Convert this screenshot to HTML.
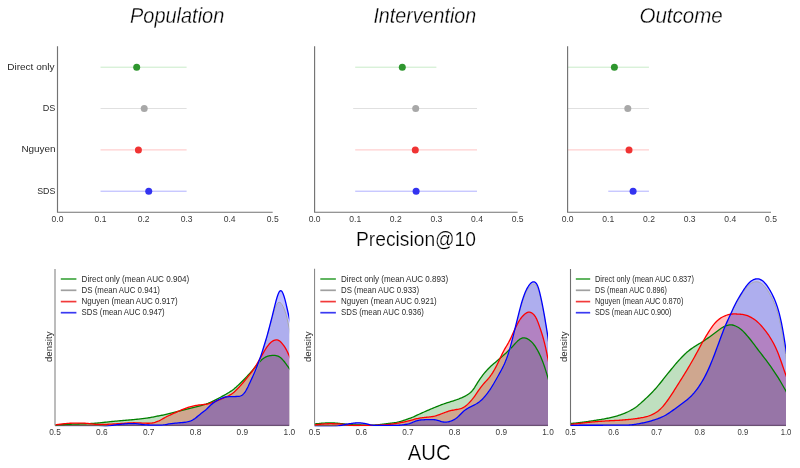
<!DOCTYPE html>
<html><head><meta charset="utf-8"><style>
html,body{margin:0;padding:0;background:#fff;width:800px;height:468px;overflow:hidden;font-family:"Liberation Sans",sans-serif;}
svg{display:block;will-change:transform;}
</style></head><body>
<svg width="800" height="468" viewBox="0 0 800 468">
<rect width="800" height="468" fill="#fff"/>
<text x="130" y="23" font-size="21.5" font-style="italic" fill="#000" stroke="#fff" stroke-width="0.3" font-family="Liberation Sans, sans-serif" textLength="94.3" lengthAdjust="spacingAndGlyphs">Population</text>
<text x="373.4" y="23" font-size="21.5" font-style="italic" fill="#000" stroke="#fff" stroke-width="0.3" font-family="Liberation Sans, sans-serif" textLength="102.8" lengthAdjust="spacingAndGlyphs">Intervention</text>
<text x="639.5" y="23" font-size="21.5" font-style="italic" fill="#000" stroke="#fff" stroke-width="0.3" font-family="Liberation Sans, sans-serif" textLength="83.2" lengthAdjust="spacingAndGlyphs">Outcome</text>
<line x1="100.54" y1="67.20" x2="186.62" y2="67.20" stroke="#c8ebc8" stroke-width="1.00"/>
<circle cx="136.69" cy="67.20" r="3.5" fill="#2e962e"/>
<line x1="100.54" y1="108.50" x2="186.62" y2="108.50" stroke="#e0e0e0" stroke-width="1.00"/>
<circle cx="144.23" cy="108.50" r="3.5" fill="#a8a8a8"/>
<line x1="100.54" y1="149.90" x2="186.62" y2="149.90" stroke="#ffcfcf" stroke-width="1.40"/>
<circle cx="138.42" cy="149.90" r="3.5" fill="#f03333"/>
<line x1="100.54" y1="191.20" x2="186.62" y2="191.20" stroke="#b0b0ff" stroke-width="1.00"/>
<circle cx="148.74" cy="191.20" r="3.5" fill="#3333f0"/>
<path d="M57.50,46.2 V212.2 H272.70" fill="none" stroke="#737373" stroke-width="1.15"/>
<text x="57.50" y="221.6" font-size="8.6" fill="#3a3a3a" text-anchor="middle" font-family="Liberation Sans, sans-serif" textLength="11.9" lengthAdjust="spacingAndGlyphs">0.0</text>
<text x="100.54" y="221.6" font-size="8.6" fill="#3a3a3a" text-anchor="middle" font-family="Liberation Sans, sans-serif" textLength="11.9" lengthAdjust="spacingAndGlyphs">0.1</text>
<text x="143.58" y="221.6" font-size="8.6" fill="#3a3a3a" text-anchor="middle" font-family="Liberation Sans, sans-serif" textLength="11.9" lengthAdjust="spacingAndGlyphs">0.2</text>
<text x="186.62" y="221.6" font-size="8.6" fill="#3a3a3a" text-anchor="middle" font-family="Liberation Sans, sans-serif" textLength="11.9" lengthAdjust="spacingAndGlyphs">0.3</text>
<text x="229.66" y="221.6" font-size="8.6" fill="#3a3a3a" text-anchor="middle" font-family="Liberation Sans, sans-serif" textLength="11.9" lengthAdjust="spacingAndGlyphs">0.4</text>
<text x="272.70" y="221.6" font-size="8.6" fill="#3a3a3a" text-anchor="middle" font-family="Liberation Sans, sans-serif" textLength="11.9" lengthAdjust="spacingAndGlyphs">0.5</text>
<line x1="355.20" y1="67.20" x2="436.40" y2="67.20" stroke="#c8ebc8" stroke-width="1.00"/>
<circle cx="402.30" cy="67.20" r="3.5" fill="#2e962e"/>
<line x1="353.17" y1="108.50" x2="477.00" y2="108.50" stroke="#e0e0e0" stroke-width="1.00"/>
<circle cx="415.69" cy="108.50" r="3.5" fill="#a8a8a8"/>
<line x1="355.20" y1="149.90" x2="477.00" y2="149.90" stroke="#ffcfcf" stroke-width="1.40"/>
<circle cx="415.29" cy="149.90" r="3.5" fill="#f03333"/>
<line x1="355.20" y1="191.20" x2="477.00" y2="191.20" stroke="#b0b0ff" stroke-width="1.00"/>
<circle cx="416.10" cy="191.20" r="3.5" fill="#3333f0"/>
<path d="M314.60,46.2 V212.2 H517.60" fill="none" stroke="#737373" stroke-width="1.15"/>
<text x="314.60" y="221.6" font-size="8.6" fill="#3a3a3a" text-anchor="middle" font-family="Liberation Sans, sans-serif" textLength="11.9" lengthAdjust="spacingAndGlyphs">0.0</text>
<text x="355.20" y="221.6" font-size="8.6" fill="#3a3a3a" text-anchor="middle" font-family="Liberation Sans, sans-serif" textLength="11.9" lengthAdjust="spacingAndGlyphs">0.1</text>
<text x="395.80" y="221.6" font-size="8.6" fill="#3a3a3a" text-anchor="middle" font-family="Liberation Sans, sans-serif" textLength="11.9" lengthAdjust="spacingAndGlyphs">0.2</text>
<text x="436.40" y="221.6" font-size="8.6" fill="#3a3a3a" text-anchor="middle" font-family="Liberation Sans, sans-serif" textLength="11.9" lengthAdjust="spacingAndGlyphs">0.3</text>
<text x="477.00" y="221.6" font-size="8.6" fill="#3a3a3a" text-anchor="middle" font-family="Liberation Sans, sans-serif" textLength="11.9" lengthAdjust="spacingAndGlyphs">0.4</text>
<text x="517.60" y="221.6" font-size="8.6" fill="#3a3a3a" text-anchor="middle" font-family="Liberation Sans, sans-serif" textLength="11.9" lengthAdjust="spacingAndGlyphs">0.5</text>
<line x1="567.60" y1="67.20" x2="648.96" y2="67.20" stroke="#c8ebc8" stroke-width="1.00"/>
<circle cx="614.38" cy="67.20" r="3.5" fill="#2e962e"/>
<line x1="567.60" y1="108.50" x2="648.96" y2="108.50" stroke="#e0e0e0" stroke-width="1.00"/>
<circle cx="627.81" cy="108.50" r="3.5" fill="#a8a8a8"/>
<line x1="567.60" y1="149.90" x2="648.96" y2="149.90" stroke="#ffcfcf" stroke-width="1.40"/>
<circle cx="629.03" cy="149.90" r="3.5" fill="#f03333"/>
<line x1="608.28" y1="191.20" x2="648.96" y2="191.20" stroke="#b0b0ff" stroke-width="1.00"/>
<circle cx="633.09" cy="191.20" r="3.5" fill="#3333f0"/>
<path d="M567.60,46.2 V212.2 H771.00" fill="none" stroke="#737373" stroke-width="1.15"/>
<text x="567.60" y="221.6" font-size="8.6" fill="#3a3a3a" text-anchor="middle" font-family="Liberation Sans, sans-serif" textLength="11.9" lengthAdjust="spacingAndGlyphs">0.0</text>
<text x="608.28" y="221.6" font-size="8.6" fill="#3a3a3a" text-anchor="middle" font-family="Liberation Sans, sans-serif" textLength="11.9" lengthAdjust="spacingAndGlyphs">0.1</text>
<text x="648.96" y="221.6" font-size="8.6" fill="#3a3a3a" text-anchor="middle" font-family="Liberation Sans, sans-serif" textLength="11.9" lengthAdjust="spacingAndGlyphs">0.2</text>
<text x="689.64" y="221.6" font-size="8.6" fill="#3a3a3a" text-anchor="middle" font-family="Liberation Sans, sans-serif" textLength="11.9" lengthAdjust="spacingAndGlyphs">0.3</text>
<text x="730.32" y="221.6" font-size="8.6" fill="#3a3a3a" text-anchor="middle" font-family="Liberation Sans, sans-serif" textLength="11.9" lengthAdjust="spacingAndGlyphs">0.4</text>
<text x="771.00" y="221.6" font-size="8.6" fill="#3a3a3a" text-anchor="middle" font-family="Liberation Sans, sans-serif" textLength="11.9" lengthAdjust="spacingAndGlyphs">0.5</text>
<text x="54.60" y="69.75" font-size="9" fill="#2a2a2a" text-anchor="end" font-family="Liberation Sans, sans-serif" textLength="47.4" lengthAdjust="spacingAndGlyphs">Direct only</text>
<text x="55.40" y="111.05" font-size="9" fill="#2a2a2a" text-anchor="end" font-family="Liberation Sans, sans-serif" textLength="12.6" lengthAdjust="spacingAndGlyphs">DS</text>
<text x="55.60" y="152.45" font-size="9" fill="#2a2a2a" text-anchor="end" font-family="Liberation Sans, sans-serif" textLength="34.2" lengthAdjust="spacingAndGlyphs">Nguyen</text>
<text x="55.40" y="193.75" font-size="9" fill="#2a2a2a" text-anchor="end" font-family="Liberation Sans, sans-serif" textLength="18.2" lengthAdjust="spacingAndGlyphs">SDS</text>
<text x="356" y="245.5" font-size="19.5" fill="#000" stroke="#fff" stroke-width="0.22" font-family="Liberation Sans, sans-serif" textLength="120" lengthAdjust="spacingAndGlyphs">Precision@10</text>
<text x="407.8" y="460" font-size="22" fill="#000" stroke="#fff" stroke-width="0.22" font-family="Liberation Sans, sans-serif" textLength="42.8" lengthAdjust="spacingAndGlyphs">AUC</text>
<clipPath id="clipD"><rect x="55.00" y="260.00" width="234.30" height="166.20"/></clipPath>
<g clip-path="url(#clipD)">
<line x1="55.00" y1="425.50" x2="289.30" y2="425.50" stroke="#6e6e6e" stroke-width="1.3"/>
<path d="M49.00,424.99 L50.00,424.97 51.00,424.94 52.00,424.90 53.00,424.87 54.00,424.84 55.00,424.80 56.00,424.76 57.00,424.73 58.00,424.69 59.00,424.66 60.00,424.62 61.00,424.59 62.00,424.55 63.00,424.52 64.00,424.48 65.00,424.45 66.00,424.41 67.00,424.38 68.00,424.34 69.00,424.31 70.00,424.27 71.00,424.24 72.00,424.20 73.00,424.17 74.00,424.13 75.00,424.10 76.00,424.07 77.00,424.04 78.00,424.01 79.00,423.98 80.00,423.94 81.00,423.91 82.00,423.88 83.00,423.85 84.00,423.81 85.00,423.78 86.00,423.74 87.00,423.70 88.00,423.66 89.00,423.62 90.00,423.57 91.00,423.52 92.00,423.46 93.00,423.40 94.00,423.33 95.00,423.26 96.00,423.18 97.00,423.09 98.00,423.00 99.00,422.91 100.00,422.80 101.00,422.70 102.00,422.59 103.00,422.49 104.00,422.37 105.00,422.26 106.00,422.15 107.00,422.04 108.00,421.93 109.00,421.82 110.00,421.71 111.00,421.60 112.00,421.50 113.00,421.40 114.00,421.31 115.00,421.21 116.00,421.12 117.00,421.03 118.00,420.94 119.00,420.86 120.00,420.77 121.00,420.69 122.00,420.61 123.00,420.52 124.00,420.44 125.00,420.36 126.00,420.27 127.00,420.19 128.00,420.10 129.00,420.01 130.00,419.92 131.00,419.83 132.00,419.74 133.00,419.65 134.00,419.55 135.00,419.45 136.00,419.35 137.00,419.24 138.00,419.14 139.00,419.03 140.00,418.92 141.00,418.80 142.00,418.68 143.00,418.56 144.00,418.44 145.00,418.31 146.00,418.18 147.00,418.04 148.00,417.89 149.00,417.74 150.00,417.58 151.00,417.41 152.00,417.23 153.00,417.03 154.00,416.83 155.00,416.63 156.00,416.42 157.00,416.21 158.00,416.01 159.00,415.81 160.00,415.62 161.00,415.43 162.00,415.24 163.00,415.05 164.00,414.85 165.00,414.64 166.00,414.42 167.00,414.20 168.00,413.96 169.00,413.71 170.00,413.45 171.00,413.19 172.00,412.93 173.00,412.67 174.00,412.41 175.00,412.16 176.00,411.90 177.00,411.65 178.00,411.41 179.00,411.16 180.00,410.91 181.00,410.67 182.00,410.42 183.00,410.18 184.00,409.93 185.00,409.69 186.00,409.44 187.00,409.19 188.00,408.95 189.00,408.70 190.00,408.45 191.00,408.20 192.00,407.95 193.00,407.69 194.00,407.44 195.00,407.18 196.00,406.92 197.00,406.65 198.00,406.39 199.00,406.11 200.00,405.84 201.00,405.56 202.00,405.28 203.00,404.99 204.00,404.69 205.00,404.37 206.00,404.04 207.00,403.68 208.00,403.31 209.00,402.90 210.00,402.48 211.00,402.04 212.00,401.58 213.00,401.11 214.00,400.63 215.00,400.13 216.00,399.62 217.00,399.11 218.00,398.58 219.00,398.04 220.00,397.51 221.00,396.96 222.00,396.42 223.00,395.87 224.00,395.33 225.00,394.77 226.00,394.21 227.00,393.64 228.00,393.05 229.00,392.44 230.00,391.80 231.00,391.13 232.00,390.43 233.00,389.68 234.00,388.89 235.00,388.05 236.00,387.19 237.00,386.29 238.00,385.37 239.00,384.43 240.00,383.47 241.00,382.50 242.00,381.52 243.00,380.51 244.00,379.49 245.00,378.46 246.00,377.41 247.00,376.37 248.00,375.31 249.00,374.24 250.00,373.15 251.00,372.03 252.00,370.87 253.00,369.69 254.00,368.47 255.00,367.24 256.00,366.02 257.00,364.81 258.00,363.63 259.00,362.50 260.00,361.44 261.00,360.47 262.00,359.57 263.00,358.77 264.00,358.07 265.00,357.45 266.00,356.93 267.00,356.49 268.00,356.15 269.00,355.88 270.00,355.69 271.00,355.55 272.00,355.45 273.00,355.40 274.00,355.40 275.00,355.46 276.00,355.60 277.00,355.82 278.00,356.16 279.00,356.64 280.00,357.29 281.00,358.09 282.00,359.02 283.00,360.08 284.00,361.25 285.00,362.52 286.00,363.87 287.00,365.26 288.00,366.67 289.00,368.06 290.00,369.44 291.00,370.81 292.00,372.15 293.00,373.43 294.00,374.57 295.00,375.48 295.30,376.10 L295.30,425.70 L49.00,425.70 Z" fill="#008000" fill-opacity="0.25" stroke="none"/>
<path d="M49.00,427.60 L50.00,427.60 51.00,427.60 52.00,427.60 53.00,427.60 54.00,427.60 55.00,427.60 56.00,427.60 57.00,427.60 58.00,427.60 59.00,427.60 60.00,427.60 61.00,427.60 62.00,427.60 63.00,427.60 64.00,427.60 65.00,427.60 66.00,427.60 67.00,427.60 68.00,427.60 69.00,427.60 70.00,427.60 71.00,427.60 72.00,427.60 73.00,427.60 74.00,427.60 75.00,427.60 76.00,427.60 77.00,427.60 78.00,427.60 79.00,427.60 80.00,427.60 81.00,427.60 82.00,427.60 83.00,427.60 84.00,427.60 85.00,427.60 86.00,427.60 87.00,427.60 88.00,427.60 89.00,427.60 90.00,427.60 91.00,427.60 92.00,427.60 93.00,427.60 94.00,427.60 95.00,427.60 96.00,427.60 97.00,427.59 98.00,427.56 99.00,427.52 100.00,427.45 101.00,427.36 102.00,427.23 103.00,427.08 104.00,426.91 105.00,426.73 106.00,426.54 107.00,426.35 108.00,426.16 109.00,425.98 110.00,425.81 111.00,425.64 112.00,425.47 113.00,425.30 114.00,425.14 115.00,424.99 116.00,424.85 117.00,424.72 118.00,424.60 119.00,424.49 120.00,424.39 121.00,424.29 122.00,424.19 123.00,424.09 124.00,424.00 125.00,423.92 126.00,423.84 127.00,423.76 128.00,423.70 129.00,423.64 130.00,423.60 131.00,423.56 132.00,423.54 133.00,423.54 134.00,423.56 135.00,423.60 136.00,423.68 137.00,423.78 138.00,423.90 139.00,424.04 140.00,424.19 141.00,424.34 142.00,424.49 143.00,424.63 144.00,424.75 145.00,424.85 146.00,424.92 147.00,424.97 148.00,425.00 149.00,425.02 150.00,425.03 151.00,425.04 152.00,425.05 153.00,425.06 154.00,425.07 155.00,425.08 156.00,425.08 157.00,425.09 158.00,425.09 159.00,425.09 160.00,425.09 161.00,425.07 162.00,425.04 163.00,424.97 164.00,424.86 165.00,424.71 166.00,424.53 167.00,424.34 168.00,424.14 169.00,423.95 170.00,423.79 171.00,423.65 172.00,423.52 173.00,423.41 174.00,423.31 175.00,423.22 176.00,423.12 177.00,423.03 178.00,422.94 179.00,422.85 180.00,422.76 181.00,422.67 182.00,422.59 183.00,422.49 184.00,422.39 185.00,422.27 186.00,422.12 187.00,421.95 188.00,421.73 189.00,421.47 190.00,421.15 191.00,420.78 192.00,420.33 193.00,419.79 194.00,419.16 195.00,418.44 196.00,417.67 197.00,416.87 198.00,416.04 199.00,415.21 200.00,414.38 201.00,413.57 202.00,412.78 203.00,412.02 204.00,411.26 205.00,410.48 206.00,409.64 207.00,408.71 208.00,407.71 209.00,406.68 210.00,405.67 211.00,404.73 212.00,403.88 213.00,403.11 214.00,402.41 215.00,401.76 216.00,401.14 217.00,400.56 218.00,400.01 219.00,399.49 220.00,399.02 221.00,398.57 222.00,398.17 223.00,397.80 224.00,397.48 225.00,397.21 226.00,397.01 227.00,396.87 228.00,396.78 229.00,396.72 230.00,396.69 231.00,396.65 232.00,396.63 233.00,396.60 234.00,396.57 235.00,396.54 236.00,396.51 237.00,396.47 238.00,396.41 239.00,396.31 240.00,396.11 241.00,395.76 242.00,395.20 243.00,394.41 244.00,393.36 245.00,392.05 246.00,390.48 247.00,388.67 248.00,386.68 249.00,384.59 250.00,382.49 251.00,380.45 252.00,378.51 253.00,376.63 254.00,374.76 255.00,372.80 256.00,370.69 257.00,368.37 258.00,365.82 259.00,363.06 260.00,360.12 261.00,357.05 262.00,353.89 263.00,350.65 264.00,347.33 265.00,343.92 266.00,340.41 267.00,336.81 268.00,333.11 269.00,329.35 270.00,325.57 271.00,321.81 272.00,318.13 273.00,314.60 274.00,311.31 275.00,308.37 276.00,305.91 277.00,304.02 278.00,302.78 279.00,302.25 280.00,302.43 281.00,303.27 282.00,304.63 283.00,306.40 284.00,308.56 285.00,311.19 286.00,314.40 287.00,318.26 288.00,322.66 289.00,327.40 290.00,332.29 291.00,337.17 292.00,341.96 293.00,346.51 294.00,350.57 295.00,353.81 295.30,356.02 L295.30,425.70 L49.00,425.70 Z" fill="#a9a9a9" fill-opacity="0.25" stroke="none"/>
<path d="M49.00,425.30 L50.00,425.24 51.00,425.17 52.00,425.08 53.00,424.99 54.00,424.89 55.00,424.79 56.00,424.69 57.00,424.58 58.00,424.47 59.00,424.35 60.00,424.23 61.00,424.11 62.00,423.99 63.00,423.87 64.00,423.75 65.00,423.64 66.00,423.55 67.00,423.46 68.00,423.38 69.00,423.32 70.00,423.27 71.00,423.24 72.00,423.22 73.00,423.21 74.00,423.20 75.00,423.20 76.00,423.20 77.00,423.20 78.00,423.20 79.00,423.20 80.00,423.20 81.00,423.20 82.00,423.20 83.00,423.21 84.00,423.22 85.00,423.25 86.00,423.30 87.00,423.37 88.00,423.45 89.00,423.56 90.00,423.67 91.00,423.79 92.00,423.91 93.00,424.03 94.00,424.14 95.00,424.25 96.00,424.33 97.00,424.40 98.00,424.44 99.00,424.47 100.00,424.48 101.00,424.47 102.00,424.46 103.00,424.44 104.00,424.41 105.00,424.38 106.00,424.34 107.00,424.30 108.00,424.26 109.00,424.21 110.00,424.16 111.00,424.10 112.00,424.05 113.00,423.99 114.00,423.93 115.00,423.88 116.00,423.82 117.00,423.76 118.00,423.70 119.00,423.64 120.00,423.58 121.00,423.52 122.00,423.46 123.00,423.40 124.00,423.32 125.00,423.25 126.00,423.17 127.00,423.09 128.00,423.02 129.00,422.95 130.00,422.89 131.00,422.84 132.00,422.80 133.00,422.78 134.00,422.77 135.00,422.78 136.00,422.80 137.00,422.83 138.00,422.86 139.00,422.90 140.00,422.94 141.00,422.99 142.00,423.04 143.00,423.08 144.00,423.13 145.00,423.17 146.00,423.21 147.00,423.24 148.00,423.26 149.00,423.25 150.00,423.22 151.00,423.14 152.00,423.01 153.00,422.82 154.00,422.57 155.00,422.28 156.00,421.96 157.00,421.60 158.00,421.22 159.00,420.79 160.00,420.32 161.00,419.79 162.00,419.23 163.00,418.65 164.00,418.07 165.00,417.50 166.00,416.96 167.00,416.45 168.00,415.97 169.00,415.50 170.00,415.05 171.00,414.60 172.00,414.16 173.00,413.71 174.00,413.27 175.00,412.82 176.00,412.37 177.00,411.91 178.00,411.46 179.00,411.01 180.00,410.57 181.00,410.14 182.00,409.72 183.00,409.31 184.00,408.91 185.00,408.52 186.00,408.14 187.00,407.77 188.00,407.43 189.00,407.10 190.00,406.81 191.00,406.53 192.00,406.28 193.00,406.05 194.00,405.83 195.00,405.63 196.00,405.45 197.00,405.28 198.00,405.13 199.00,404.99 200.00,404.88 201.00,404.78 202.00,404.69 203.00,404.60 204.00,404.50 205.00,404.39 206.00,404.25 207.00,404.07 208.00,403.85 209.00,403.58 210.00,403.28 211.00,402.94 212.00,402.60 213.00,402.24 214.00,401.88 215.00,401.52 216.00,401.14 217.00,400.75 218.00,400.36 219.00,399.95 220.00,399.54 221.00,399.12 222.00,398.70 223.00,398.28 224.00,397.85 225.00,397.41 226.00,396.96 227.00,396.50 228.00,396.01 229.00,395.49 230.00,394.94 231.00,394.34 232.00,393.68 233.00,392.95 234.00,392.14 235.00,391.27 236.00,390.32 237.00,389.33 238.00,388.30 239.00,387.24 240.00,386.16 241.00,385.04 242.00,383.90 243.00,382.72 244.00,381.53 245.00,380.32 246.00,379.10 247.00,377.88 248.00,376.65 249.00,375.41 250.00,374.15 251.00,372.85 252.00,371.49 253.00,370.08 254.00,368.61 255.00,367.08 256.00,365.49 257.00,363.84 258.00,362.13 259.00,360.39 260.00,358.62 261.00,356.85 262.00,355.08 263.00,353.33 264.00,351.63 265.00,349.98 266.00,348.40 267.00,346.92 268.00,345.54 269.00,344.29 270.00,343.19 271.00,342.25 272.00,341.47 273.00,340.85 274.00,340.38 275.00,340.07 276.00,339.93 277.00,339.97 278.00,340.20 279.00,340.64 280.00,341.31 281.00,342.21 282.00,343.32 283.00,344.56 284.00,345.92 285.00,347.41 286.00,349.10 287.00,351.01 288.00,353.11 289.00,355.32 290.00,357.58 291.00,359.85 292.00,362.08 293.00,364.21 294.00,366.11 295.00,367.63 295.30,368.67 L295.30,425.70 L49.00,425.70 Z" fill="#ff0000" fill-opacity="0.25" stroke="none"/>
<path d="M49.00,427.60 L50.00,427.60 51.00,427.60 52.00,427.60 53.00,427.60 54.00,427.60 55.00,427.60 56.00,427.60 57.00,427.60 58.00,427.60 59.00,427.60 60.00,427.60 61.00,427.60 62.00,427.60 63.00,427.60 64.00,427.60 65.00,427.60 66.00,427.60 67.00,427.60 68.00,427.60 69.00,427.60 70.00,427.60 71.00,427.60 72.00,427.60 73.00,427.60 74.00,427.60 75.00,427.60 76.00,427.60 77.00,427.60 78.00,427.60 79.00,427.60 80.00,427.60 81.00,427.60 82.00,427.60 83.00,427.60 84.00,427.60 85.00,427.60 86.00,427.60 87.00,427.60 88.00,427.60 89.00,427.60 90.00,427.60 91.00,427.60 92.00,427.60 93.00,427.60 94.00,427.60 95.00,427.60 96.00,427.60 97.00,427.59 98.00,427.56 99.00,427.52 100.00,427.45 101.00,427.36 102.00,427.23 103.00,427.08 104.00,426.91 105.00,426.73 106.00,426.54 107.00,426.35 108.00,426.16 109.00,425.98 110.00,425.81 111.00,425.64 112.00,425.47 113.00,425.30 114.00,425.14 115.00,424.99 116.00,424.85 117.00,424.72 118.00,424.60 119.00,424.49 120.00,424.39 121.00,424.29 122.00,424.19 123.00,424.09 124.00,424.00 125.00,423.92 126.00,423.84 127.00,423.76 128.00,423.70 129.00,423.64 130.00,423.60 131.00,423.56 132.00,423.54 133.00,423.54 134.00,423.56 135.00,423.60 136.00,423.68 137.00,423.78 138.00,423.90 139.00,424.04 140.00,424.19 141.00,424.34 142.00,424.49 143.00,424.63 144.00,424.75 145.00,424.85 146.00,424.92 147.00,424.97 148.00,425.00 149.00,425.02 150.00,425.03 151.00,425.04 152.00,425.05 153.00,425.06 154.00,425.07 155.00,425.08 156.00,425.08 157.00,425.09 158.00,425.09 159.00,425.09 160.00,425.09 161.00,425.07 162.00,425.04 163.00,424.97 164.00,424.86 165.00,424.71 166.00,424.53 167.00,424.34 168.00,424.14 169.00,423.95 170.00,423.79 171.00,423.65 172.00,423.52 173.00,423.41 174.00,423.31 175.00,423.22 176.00,423.12 177.00,423.03 178.00,422.94 179.00,422.85 180.00,422.76 181.00,422.67 182.00,422.59 183.00,422.49 184.00,422.39 185.00,422.27 186.00,422.12 187.00,421.95 188.00,421.73 189.00,421.47 190.00,421.15 191.00,420.78 192.00,420.33 193.00,419.79 194.00,419.16 195.00,418.44 196.00,417.67 197.00,416.87 198.00,416.04 199.00,415.21 200.00,414.38 201.00,413.57 202.00,412.78 203.00,412.02 204.00,411.26 205.00,410.48 206.00,409.64 207.00,408.71 208.00,407.71 209.00,406.68 210.00,405.67 211.00,404.73 212.00,403.88 213.00,403.11 214.00,402.41 215.00,401.76 216.00,401.14 217.00,400.56 218.00,400.01 219.00,399.49 220.00,399.02 221.00,398.57 222.00,398.17 223.00,397.80 224.00,397.48 225.00,397.21 226.00,397.01 227.00,396.87 228.00,396.78 229.00,396.72 230.00,396.69 231.00,396.65 232.00,396.63 233.00,396.60 234.00,396.57 235.00,396.54 236.00,396.51 237.00,396.47 238.00,396.41 239.00,396.31 240.00,396.11 241.00,395.76 242.00,395.20 243.00,394.41 244.00,393.36 245.00,392.05 246.00,390.49 247.00,388.69 248.00,386.70 249.00,384.59 250.00,382.43 251.00,380.28 252.00,378.14 253.00,375.99 254.00,373.78 255.00,371.45 256.00,369.00 257.00,366.43 258.00,363.79 259.00,361.09 260.00,358.31 261.00,355.42 262.00,352.40 263.00,349.26 264.00,346.05 265.00,342.80 266.00,339.49 267.00,336.07 268.00,332.49 269.00,328.78 270.00,324.95 271.00,321.03 272.00,317.04 273.00,312.98 274.00,308.89 275.00,304.86 276.00,301.00 277.00,297.48 278.00,294.47 279.00,292.17 280.00,290.83 281.00,290.61 282.00,291.52 283.00,293.44 284.00,296.20 285.00,299.65 286.00,303.65 287.00,308.00 288.00,312.43 289.00,316.73 290.00,320.79 291.00,324.62 292.00,328.29 293.00,331.74 294.00,334.81 295.00,337.26 295.30,338.93 L295.30,425.70 L49.00,425.70 Z" fill="#0000ff" fill-opacity="0.25" stroke="none"/>
<path d="M49.00,424.99 L50.00,424.97 51.00,424.94 52.00,424.90 53.00,424.87 54.00,424.84 55.00,424.80 56.00,424.76 57.00,424.73 58.00,424.69 59.00,424.66 60.00,424.62 61.00,424.59 62.00,424.55 63.00,424.52 64.00,424.48 65.00,424.45 66.00,424.41 67.00,424.38 68.00,424.34 69.00,424.31 70.00,424.27 71.00,424.24 72.00,424.20 73.00,424.17 74.00,424.13 75.00,424.10 76.00,424.07 77.00,424.04 78.00,424.01 79.00,423.98 80.00,423.94 81.00,423.91 82.00,423.88 83.00,423.85 84.00,423.81 85.00,423.78 86.00,423.74 87.00,423.70 88.00,423.66 89.00,423.62 90.00,423.57 91.00,423.52 92.00,423.46 93.00,423.40 94.00,423.33 95.00,423.26 96.00,423.18 97.00,423.09 98.00,423.00 99.00,422.91 100.00,422.80 101.00,422.70 102.00,422.59 103.00,422.49 104.00,422.37 105.00,422.26 106.00,422.15 107.00,422.04 108.00,421.93 109.00,421.82 110.00,421.71 111.00,421.60 112.00,421.50 113.00,421.40 114.00,421.31 115.00,421.21 116.00,421.12 117.00,421.03 118.00,420.94 119.00,420.86 120.00,420.77 121.00,420.69 122.00,420.61 123.00,420.52 124.00,420.44 125.00,420.36 126.00,420.27 127.00,420.19 128.00,420.10 129.00,420.01 130.00,419.92 131.00,419.83 132.00,419.74 133.00,419.65 134.00,419.55 135.00,419.45 136.00,419.35 137.00,419.24 138.00,419.14 139.00,419.03 140.00,418.92 141.00,418.80 142.00,418.68 143.00,418.56 144.00,418.44 145.00,418.31 146.00,418.18 147.00,418.04 148.00,417.89 149.00,417.74 150.00,417.58 151.00,417.41 152.00,417.23 153.00,417.03 154.00,416.83 155.00,416.63 156.00,416.42 157.00,416.21 158.00,416.01 159.00,415.81 160.00,415.62 161.00,415.43 162.00,415.24 163.00,415.05 164.00,414.85 165.00,414.64 166.00,414.42 167.00,414.20 168.00,413.96 169.00,413.71 170.00,413.45 171.00,413.19 172.00,412.93 173.00,412.67 174.00,412.41 175.00,412.16 176.00,411.90 177.00,411.65 178.00,411.41 179.00,411.16 180.00,410.91 181.00,410.67 182.00,410.42 183.00,410.18 184.00,409.93 185.00,409.69 186.00,409.44 187.00,409.19 188.00,408.95 189.00,408.70 190.00,408.45 191.00,408.20 192.00,407.95 193.00,407.69 194.00,407.44 195.00,407.18 196.00,406.92 197.00,406.65 198.00,406.39 199.00,406.11 200.00,405.84 201.00,405.56 202.00,405.28 203.00,404.99 204.00,404.69 205.00,404.37 206.00,404.04 207.00,403.68 208.00,403.31 209.00,402.90 210.00,402.48 211.00,402.04 212.00,401.58 213.00,401.11 214.00,400.63 215.00,400.13 216.00,399.62 217.00,399.11 218.00,398.58 219.00,398.04 220.00,397.51 221.00,396.96 222.00,396.42 223.00,395.87 224.00,395.33 225.00,394.77 226.00,394.21 227.00,393.64 228.00,393.05 229.00,392.44 230.00,391.80 231.00,391.13 232.00,390.43 233.00,389.68 234.00,388.89 235.00,388.05 236.00,387.19 237.00,386.29 238.00,385.37 239.00,384.43 240.00,383.47 241.00,382.50 242.00,381.52 243.00,380.51 244.00,379.49 245.00,378.46 246.00,377.41 247.00,376.37 248.00,375.31 249.00,374.24 250.00,373.15 251.00,372.03 252.00,370.87 253.00,369.69 254.00,368.47 255.00,367.24 256.00,366.02 257.00,364.81 258.00,363.63 259.00,362.50 260.00,361.44 261.00,360.47 262.00,359.57 263.00,358.77 264.00,358.07 265.00,357.45 266.00,356.93 267.00,356.49 268.00,356.15 269.00,355.88 270.00,355.69 271.00,355.55 272.00,355.45 273.00,355.40 274.00,355.40 275.00,355.46 276.00,355.60 277.00,355.82 278.00,356.16 279.00,356.64 280.00,357.29 281.00,358.09 282.00,359.02 283.00,360.08 284.00,361.25 285.00,362.52 286.00,363.87 287.00,365.26 288.00,366.67 289.00,368.06 290.00,369.44 291.00,370.81 292.00,372.15 293.00,373.43 294.00,374.57 295.00,375.48 295.30,376.10" fill="none" stroke="#008000" stroke-width="1.30" stroke-linejoin="round"/>
<path d="M49.00,427.60 L50.00,427.60 51.00,427.60 52.00,427.60 53.00,427.60 54.00,427.60 55.00,427.60 56.00,427.60 57.00,427.60 58.00,427.60 59.00,427.60 60.00,427.60 61.00,427.60 62.00,427.60 63.00,427.60 64.00,427.60 65.00,427.60 66.00,427.60 67.00,427.60 68.00,427.60 69.00,427.60 70.00,427.60 71.00,427.60 72.00,427.60 73.00,427.60 74.00,427.60 75.00,427.60 76.00,427.60 77.00,427.60 78.00,427.60 79.00,427.60 80.00,427.60 81.00,427.60 82.00,427.60 83.00,427.60 84.00,427.60 85.00,427.60 86.00,427.60 87.00,427.60 88.00,427.60 89.00,427.60 90.00,427.60 91.00,427.60 92.00,427.60 93.00,427.60 94.00,427.60 95.00,427.60 96.00,427.60 97.00,427.59 98.00,427.56 99.00,427.52 100.00,427.45 101.00,427.36 102.00,427.23 103.00,427.08 104.00,426.91 105.00,426.73 106.00,426.54 107.00,426.35 108.00,426.16 109.00,425.98 110.00,425.81 111.00,425.64 112.00,425.47 113.00,425.30 114.00,425.14 115.00,424.99 116.00,424.85 117.00,424.72 118.00,424.60 119.00,424.49 120.00,424.39 121.00,424.29 122.00,424.19 123.00,424.09 124.00,424.00 125.00,423.92 126.00,423.84 127.00,423.76 128.00,423.70 129.00,423.64 130.00,423.60 131.00,423.56 132.00,423.54 133.00,423.54 134.00,423.56 135.00,423.60 136.00,423.68 137.00,423.78 138.00,423.90 139.00,424.04 140.00,424.19 141.00,424.34 142.00,424.49 143.00,424.63 144.00,424.75 145.00,424.85 146.00,424.92 147.00,424.97 148.00,425.00 149.00,425.02 150.00,425.03 151.00,425.04 152.00,425.05 153.00,425.06 154.00,425.07 155.00,425.08 156.00,425.08 157.00,425.09 158.00,425.09 159.00,425.09 160.00,425.09 161.00,425.07 162.00,425.04 163.00,424.97 164.00,424.86 165.00,424.71 166.00,424.53 167.00,424.34 168.00,424.14 169.00,423.95 170.00,423.79 171.00,423.65 172.00,423.52 173.00,423.41 174.00,423.31 175.00,423.22 176.00,423.12 177.00,423.03 178.00,422.94 179.00,422.85 180.00,422.76 181.00,422.67 182.00,422.59 183.00,422.49 184.00,422.39 185.00,422.27 186.00,422.12 187.00,421.95 188.00,421.73 189.00,421.47 190.00,421.15 191.00,420.78 192.00,420.33 193.00,419.79 194.00,419.16 195.00,418.44 196.00,417.67 197.00,416.87 198.00,416.04 199.00,415.21 200.00,414.38 201.00,413.57 202.00,412.78 203.00,412.02 204.00,411.26 205.00,410.48 206.00,409.64 207.00,408.71 208.00,407.71 209.00,406.68 210.00,405.67 211.00,404.73 212.00,403.88 213.00,403.11 214.00,402.41 215.00,401.76 216.00,401.14 217.00,400.56 218.00,400.01 219.00,399.49 220.00,399.02 221.00,398.57 222.00,398.17 223.00,397.80 224.00,397.48 225.00,397.21 226.00,397.01 227.00,396.87 228.00,396.78 229.00,396.72 230.00,396.69 231.00,396.65 232.00,396.63 233.00,396.60 234.00,396.57 235.00,396.54 236.00,396.51 237.00,396.47 238.00,396.41 239.00,396.31 240.00,396.11 241.00,395.76 242.00,395.20 243.00,394.41 244.00,393.36 245.00,392.05 246.00,390.48 247.00,388.67 248.00,386.68 249.00,384.59 250.00,382.49 251.00,380.45 252.00,378.51 253.00,376.63 254.00,374.76 255.00,372.80 256.00,370.69 257.00,368.37 258.00,365.82 259.00,363.06 260.00,360.12 261.00,357.05 262.00,353.89 263.00,350.65 264.00,347.33 265.00,343.92 266.00,340.41 267.00,336.81 268.00,333.11 269.00,329.35 270.00,325.57 271.00,321.81 272.00,318.13 273.00,314.60 274.00,311.31 275.00,308.37 276.00,305.91 277.00,304.02 278.00,302.78 279.00,302.25 280.00,302.43 281.00,303.27 282.00,304.63 283.00,306.40 284.00,308.56 285.00,311.19 286.00,314.40 287.00,318.26 288.00,322.66 289.00,327.40 290.00,332.29 291.00,337.17 292.00,341.96 293.00,346.51 294.00,350.57 295.00,353.81 295.30,356.02" fill="none" stroke="#a9a9a9" stroke-width="1.00" stroke-linejoin="round"/>
<path d="M49.00,425.30 L50.00,425.24 51.00,425.17 52.00,425.08 53.00,424.99 54.00,424.89 55.00,424.79 56.00,424.69 57.00,424.58 58.00,424.47 59.00,424.35 60.00,424.23 61.00,424.11 62.00,423.99 63.00,423.87 64.00,423.75 65.00,423.64 66.00,423.55 67.00,423.46 68.00,423.38 69.00,423.32 70.00,423.27 71.00,423.24 72.00,423.22 73.00,423.21 74.00,423.20 75.00,423.20 76.00,423.20 77.00,423.20 78.00,423.20 79.00,423.20 80.00,423.20 81.00,423.20 82.00,423.20 83.00,423.21 84.00,423.22 85.00,423.25 86.00,423.30 87.00,423.37 88.00,423.45 89.00,423.56 90.00,423.67 91.00,423.79 92.00,423.91 93.00,424.03 94.00,424.14 95.00,424.25 96.00,424.33 97.00,424.40 98.00,424.44 99.00,424.47 100.00,424.48 101.00,424.47 102.00,424.46 103.00,424.44 104.00,424.41 105.00,424.38 106.00,424.34 107.00,424.30 108.00,424.26 109.00,424.21 110.00,424.16 111.00,424.10 112.00,424.05 113.00,423.99 114.00,423.93 115.00,423.88 116.00,423.82 117.00,423.76 118.00,423.70 119.00,423.64 120.00,423.58 121.00,423.52 122.00,423.46 123.00,423.40 124.00,423.32 125.00,423.25 126.00,423.17 127.00,423.09 128.00,423.02 129.00,422.95 130.00,422.89 131.00,422.84 132.00,422.80 133.00,422.78 134.00,422.77 135.00,422.78 136.00,422.80 137.00,422.83 138.00,422.86 139.00,422.90 140.00,422.94 141.00,422.99 142.00,423.04 143.00,423.08 144.00,423.13 145.00,423.17 146.00,423.21 147.00,423.24 148.00,423.26 149.00,423.25 150.00,423.22 151.00,423.14 152.00,423.01 153.00,422.82 154.00,422.57 155.00,422.28 156.00,421.96 157.00,421.60 158.00,421.22 159.00,420.79 160.00,420.32 161.00,419.79 162.00,419.23 163.00,418.65 164.00,418.07 165.00,417.50 166.00,416.96 167.00,416.45 168.00,415.97 169.00,415.50 170.00,415.05 171.00,414.60 172.00,414.16 173.00,413.71 174.00,413.27 175.00,412.82 176.00,412.37 177.00,411.91 178.00,411.46 179.00,411.01 180.00,410.57 181.00,410.14 182.00,409.72 183.00,409.31 184.00,408.91 185.00,408.52 186.00,408.14 187.00,407.77 188.00,407.43 189.00,407.10 190.00,406.81 191.00,406.53 192.00,406.28 193.00,406.05 194.00,405.83 195.00,405.63 196.00,405.45 197.00,405.28 198.00,405.13 199.00,404.99 200.00,404.88 201.00,404.78 202.00,404.69 203.00,404.60 204.00,404.50 205.00,404.39 206.00,404.25 207.00,404.07 208.00,403.85 209.00,403.58 210.00,403.28 211.00,402.94 212.00,402.60 213.00,402.24 214.00,401.88 215.00,401.52 216.00,401.14 217.00,400.75 218.00,400.36 219.00,399.95 220.00,399.54 221.00,399.12 222.00,398.70 223.00,398.28 224.00,397.85 225.00,397.41 226.00,396.96 227.00,396.50 228.00,396.01 229.00,395.49 230.00,394.94 231.00,394.34 232.00,393.68 233.00,392.95 234.00,392.14 235.00,391.27 236.00,390.32 237.00,389.33 238.00,388.30 239.00,387.24 240.00,386.16 241.00,385.04 242.00,383.90 243.00,382.72 244.00,381.53 245.00,380.32 246.00,379.10 247.00,377.88 248.00,376.65 249.00,375.41 250.00,374.15 251.00,372.85 252.00,371.49 253.00,370.08 254.00,368.61 255.00,367.08 256.00,365.49 257.00,363.84 258.00,362.13 259.00,360.39 260.00,358.62 261.00,356.85 262.00,355.08 263.00,353.33 264.00,351.63 265.00,349.98 266.00,348.40 267.00,346.92 268.00,345.54 269.00,344.29 270.00,343.19 271.00,342.25 272.00,341.47 273.00,340.85 274.00,340.38 275.00,340.07 276.00,339.93 277.00,339.97 278.00,340.20 279.00,340.64 280.00,341.31 281.00,342.21 282.00,343.32 283.00,344.56 284.00,345.92 285.00,347.41 286.00,349.10 287.00,351.01 288.00,353.11 289.00,355.32 290.00,357.58 291.00,359.85 292.00,362.08 293.00,364.21 294.00,366.11 295.00,367.63 295.30,368.67" fill="none" stroke="#ff0000" stroke-width="1.30" stroke-linejoin="round"/>
<path d="M49.00,427.60 L50.00,427.60 51.00,427.60 52.00,427.60 53.00,427.60 54.00,427.60 55.00,427.60 56.00,427.60 57.00,427.60 58.00,427.60 59.00,427.60 60.00,427.60 61.00,427.60 62.00,427.60 63.00,427.60 64.00,427.60 65.00,427.60 66.00,427.60 67.00,427.60 68.00,427.60 69.00,427.60 70.00,427.60 71.00,427.60 72.00,427.60 73.00,427.60 74.00,427.60 75.00,427.60 76.00,427.60 77.00,427.60 78.00,427.60 79.00,427.60 80.00,427.60 81.00,427.60 82.00,427.60 83.00,427.60 84.00,427.60 85.00,427.60 86.00,427.60 87.00,427.60 88.00,427.60 89.00,427.60 90.00,427.60 91.00,427.60 92.00,427.60 93.00,427.60 94.00,427.60 95.00,427.60 96.00,427.60 97.00,427.59 98.00,427.56 99.00,427.52 100.00,427.45 101.00,427.36 102.00,427.23 103.00,427.08 104.00,426.91 105.00,426.73 106.00,426.54 107.00,426.35 108.00,426.16 109.00,425.98 110.00,425.81 111.00,425.64 112.00,425.47 113.00,425.30 114.00,425.14 115.00,424.99 116.00,424.85 117.00,424.72 118.00,424.60 119.00,424.49 120.00,424.39 121.00,424.29 122.00,424.19 123.00,424.09 124.00,424.00 125.00,423.92 126.00,423.84 127.00,423.76 128.00,423.70 129.00,423.64 130.00,423.60 131.00,423.56 132.00,423.54 133.00,423.54 134.00,423.56 135.00,423.60 136.00,423.68 137.00,423.78 138.00,423.90 139.00,424.04 140.00,424.19 141.00,424.34 142.00,424.49 143.00,424.63 144.00,424.75 145.00,424.85 146.00,424.92 147.00,424.97 148.00,425.00 149.00,425.02 150.00,425.03 151.00,425.04 152.00,425.05 153.00,425.06 154.00,425.07 155.00,425.08 156.00,425.08 157.00,425.09 158.00,425.09 159.00,425.09 160.00,425.09 161.00,425.07 162.00,425.04 163.00,424.97 164.00,424.86 165.00,424.71 166.00,424.53 167.00,424.34 168.00,424.14 169.00,423.95 170.00,423.79 171.00,423.65 172.00,423.52 173.00,423.41 174.00,423.31 175.00,423.22 176.00,423.12 177.00,423.03 178.00,422.94 179.00,422.85 180.00,422.76 181.00,422.67 182.00,422.59 183.00,422.49 184.00,422.39 185.00,422.27 186.00,422.12 187.00,421.95 188.00,421.73 189.00,421.47 190.00,421.15 191.00,420.78 192.00,420.33 193.00,419.79 194.00,419.16 195.00,418.44 196.00,417.67 197.00,416.87 198.00,416.04 199.00,415.21 200.00,414.38 201.00,413.57 202.00,412.78 203.00,412.02 204.00,411.26 205.00,410.48 206.00,409.64 207.00,408.71 208.00,407.71 209.00,406.68 210.00,405.67 211.00,404.73 212.00,403.88 213.00,403.11 214.00,402.41 215.00,401.76 216.00,401.14 217.00,400.56 218.00,400.01 219.00,399.49 220.00,399.02 221.00,398.57 222.00,398.17 223.00,397.80 224.00,397.48 225.00,397.21 226.00,397.01 227.00,396.87 228.00,396.78 229.00,396.72 230.00,396.69 231.00,396.65 232.00,396.63 233.00,396.60 234.00,396.57 235.00,396.54 236.00,396.51 237.00,396.47 238.00,396.41 239.00,396.31 240.00,396.11 241.00,395.76 242.00,395.20 243.00,394.41 244.00,393.36 245.00,392.05 246.00,390.49 247.00,388.69 248.00,386.70 249.00,384.59 250.00,382.43 251.00,380.28 252.00,378.14 253.00,375.99 254.00,373.78 255.00,371.45 256.00,369.00 257.00,366.43 258.00,363.79 259.00,361.09 260.00,358.31 261.00,355.42 262.00,352.40 263.00,349.26 264.00,346.05 265.00,342.80 266.00,339.49 267.00,336.07 268.00,332.49 269.00,328.78 270.00,324.95 271.00,321.03 272.00,317.04 273.00,312.98 274.00,308.89 275.00,304.86 276.00,301.00 277.00,297.48 278.00,294.47 279.00,292.17 280.00,290.83 281.00,290.61 282.00,291.52 283.00,293.44 284.00,296.20 285.00,299.65 286.00,303.65 287.00,308.00 288.00,312.43 289.00,316.73 290.00,320.79 291.00,324.62 292.00,328.29 293.00,331.74 294.00,334.81 295.00,337.26 295.30,338.93" fill="none" stroke="#0000ff" stroke-width="1.30" stroke-linejoin="round"/>
</g>
<line x1="55.00" y1="269.00" x2="55.00" y2="425.60" stroke="#a0a0a0" stroke-width="1.40"/>
<text x="55.00" y="434.8" font-size="8.3" fill="#3a3a3a" text-anchor="middle" font-family="Liberation Sans, sans-serif" textLength="11.6" lengthAdjust="spacingAndGlyphs">0.5</text>
<text x="101.86" y="434.8" font-size="8.3" fill="#3a3a3a" text-anchor="middle" font-family="Liberation Sans, sans-serif" textLength="11.6" lengthAdjust="spacingAndGlyphs">0.6</text>
<text x="148.72" y="434.8" font-size="8.3" fill="#3a3a3a" text-anchor="middle" font-family="Liberation Sans, sans-serif" textLength="11.6" lengthAdjust="spacingAndGlyphs">0.7</text>
<text x="195.58" y="434.8" font-size="8.3" fill="#3a3a3a" text-anchor="middle" font-family="Liberation Sans, sans-serif" textLength="11.6" lengthAdjust="spacingAndGlyphs">0.8</text>
<text x="242.44" y="434.8" font-size="8.3" fill="#3a3a3a" text-anchor="middle" font-family="Liberation Sans, sans-serif" textLength="11.6" lengthAdjust="spacingAndGlyphs">0.9</text>
<text x="289.30" y="434.8" font-size="8.3" fill="#3a3a3a" text-anchor="middle" font-family="Liberation Sans, sans-serif" textLength="11.6" lengthAdjust="spacingAndGlyphs">1.0</text>
<text transform="translate(51.50,346.8) rotate(-90)" font-size="8.5" fill="#2a2a2a" text-anchor="middle" font-family="Liberation Sans, sans-serif" textLength="30.5" lengthAdjust="spacingAndGlyphs">density</text>
<line x1="60.80" y1="279.00" x2="76.40" y2="279.00" stroke="#45a845" stroke-width="1.7"/>
<text x="81.60" y="281.50" font-size="8.4" fill="#2a2a2a" font-family="Liberation Sans, sans-serif" textLength="107.5" lengthAdjust="spacingAndGlyphs">Direct only (mean AUC 0.904)</text>
<line x1="60.80" y1="290.30" x2="76.40" y2="290.30" stroke="#a0a0a0" stroke-width="1.7"/>
<text x="81.60" y="292.80" font-size="8.4" fill="#2a2a2a" font-family="Liberation Sans, sans-serif" textLength="78.3" lengthAdjust="spacingAndGlyphs">DS (mean AUC 0.941)</text>
<line x1="60.80" y1="301.60" x2="76.40" y2="301.60" stroke="#f23a3a" stroke-width="1.7"/>
<text x="81.60" y="304.10" font-size="8.4" fill="#2a2a2a" font-family="Liberation Sans, sans-serif" textLength="96.1" lengthAdjust="spacingAndGlyphs">Nguyen (mean AUC 0.917)</text>
<line x1="60.80" y1="312.70" x2="76.40" y2="312.70" stroke="#3a3af2" stroke-width="1.7"/>
<text x="81.60" y="315.20" font-size="8.4" fill="#2a2a2a" font-family="Liberation Sans, sans-serif" textLength="83.1" lengthAdjust="spacingAndGlyphs">SDS (mean AUC 0.947)</text>
<clipPath id="clipE"><rect x="314.55" y="260.00" width="233.45" height="166.20"/></clipPath>
<g clip-path="url(#clipE)">
<line x1="314.55" y1="425.50" x2="548.00" y2="425.50" stroke="#6e6e6e" stroke-width="1.3"/>
<path d="M308.55,424.57 L309.55,424.50 310.55,424.42 311.55,424.32 312.55,424.21 313.55,424.11 314.55,423.99 315.55,423.88 316.55,423.77 317.55,423.65 318.55,423.54 319.55,423.44 320.55,423.34 321.55,423.25 322.55,423.17 323.55,423.10 324.55,423.03 325.55,422.97 326.55,422.92 327.55,422.88 328.55,422.85 329.55,422.83 330.55,422.83 331.55,422.86 332.55,422.89 333.55,422.95 334.55,423.02 335.55,423.09 336.55,423.18 337.55,423.27 338.55,423.37 339.55,423.47 340.55,423.56 341.55,423.66 342.55,423.76 343.55,423.86 344.55,423.97 345.55,424.08 346.55,424.20 347.55,424.31 348.55,424.42 349.55,424.52 350.55,424.60 351.55,424.67 352.55,424.73 353.55,424.78 354.55,424.83 355.55,424.86 356.55,424.90 357.55,424.93 358.55,424.97 359.55,425.00 360.55,425.02 361.55,425.05 362.55,425.08 363.55,425.10 364.55,425.12 365.55,425.14 366.55,425.15 367.55,425.17 368.55,425.18 369.55,425.19 370.55,425.19 371.55,425.18 372.55,425.16 373.55,425.13 374.55,425.08 375.55,425.00 376.55,424.91 377.55,424.81 378.55,424.69 379.55,424.57 380.55,424.44 381.55,424.31 382.55,424.18 383.55,424.06 384.55,423.94 385.55,423.83 386.55,423.71 387.55,423.60 388.55,423.49 389.55,423.37 390.55,423.24 391.55,423.12 392.55,422.98 393.55,422.84 394.55,422.69 395.55,422.52 396.55,422.35 397.55,422.15 398.55,421.93 399.55,421.68 400.55,421.41 401.55,421.11 402.55,420.79 403.55,420.46 404.55,420.12 405.55,419.78 406.55,419.43 407.55,419.08 408.55,418.74 409.55,418.38 410.55,418.02 411.55,417.64 412.55,417.24 413.55,416.82 414.55,416.37 415.55,415.91 416.55,415.44 417.55,414.96 418.55,414.49 419.55,414.02 420.55,413.57 421.55,413.11 422.55,412.67 423.55,412.22 424.55,411.78 425.55,411.34 426.55,410.90 427.55,410.47 428.55,410.04 429.55,409.61 430.55,409.18 431.55,408.75 432.55,408.33 433.55,407.91 434.55,407.50 435.55,407.09 436.55,406.68 437.55,406.28 438.55,405.88 439.55,405.49 440.55,405.10 441.55,404.72 442.55,404.35 443.55,404.00 444.55,403.65 445.55,403.31 446.55,402.98 447.55,402.66 448.55,402.35 449.55,402.03 450.55,401.72 451.55,401.40 452.55,401.09 453.55,400.77 454.55,400.44 455.55,400.10 456.55,399.75 457.55,399.39 458.55,399.02 459.55,398.62 460.55,398.21 461.55,397.79 462.55,397.34 463.55,396.87 464.55,396.37 465.55,395.84 466.55,395.28 467.55,394.67 468.55,394.01 469.55,393.27 470.55,392.43 471.55,391.46 472.55,390.32 473.55,389.01 474.55,387.55 475.55,385.97 476.55,384.34 477.55,382.71 478.55,381.12 479.55,379.61 480.55,378.17 481.55,376.80 482.55,375.48 483.55,374.20 484.55,372.95 485.55,371.75 486.55,370.59 487.55,369.49 488.55,368.44 489.55,367.44 490.55,366.49 491.55,365.58 492.55,364.71 493.55,363.85 494.55,362.99 495.55,362.14 496.55,361.29 497.55,360.44 498.55,359.58 499.55,358.72 500.55,357.86 501.55,357.00 502.55,356.12 503.55,355.24 504.55,354.34 505.55,353.42 506.55,352.48 507.55,351.52 508.55,350.55 509.55,349.56 510.55,348.55 511.55,347.53 512.55,346.48 513.55,345.40 514.55,344.30 515.55,343.18 516.55,342.09 517.55,341.09 518.55,340.19 519.55,339.42 520.55,338.79 521.55,338.30 522.55,337.98 523.55,337.84 524.55,337.89 525.55,338.10 526.55,338.46 527.55,338.93 528.55,339.50 529.55,340.16 530.55,340.94 531.55,341.86 532.55,342.92 533.55,344.13 534.55,345.49 535.55,346.96 536.55,348.55 537.55,350.28 538.55,352.14 539.55,354.16 540.55,356.35 541.55,358.70 542.55,361.21 543.55,363.89 544.55,366.76 545.55,369.83 546.55,373.07 547.55,376.42 548.55,379.81 549.55,383.19 550.55,386.52 551.55,389.71 552.55,392.60 553.55,394.94 554.00,396.59 L554.00,425.70 L308.55,425.70 Z" fill="#008000" fill-opacity="0.25" stroke="none"/>
<path d="M308.55,426.83 L309.55,426.82 310.55,426.81 311.55,426.81 312.55,426.80 313.55,426.79 314.55,426.78 315.55,426.77 316.55,426.76 317.55,426.75 318.55,426.75 319.55,426.74 320.55,426.74 321.55,426.73 322.55,426.72 323.55,426.72 324.55,426.71 325.55,426.70 326.55,426.70 327.55,426.69 328.55,426.68 329.55,426.67 330.55,426.65 331.55,426.64 332.55,426.62 333.55,426.59 334.55,426.54 335.55,426.46 336.55,426.33 337.55,426.16 338.55,425.96 339.55,425.74 340.55,425.52 341.55,425.29 342.55,425.08 343.55,424.86 344.55,424.65 345.55,424.44 346.55,424.25 347.55,424.06 348.55,423.89 349.55,423.74 350.55,423.59 351.55,423.45 352.55,423.33 353.55,423.21 354.55,423.10 355.55,423.01 356.55,422.95 357.55,422.91 358.55,422.90 359.55,422.93 360.55,422.99 361.55,423.09 362.55,423.21 363.55,423.35 364.55,423.51 365.55,423.69 366.55,423.89 367.55,424.12 368.55,424.37 369.55,424.62 370.55,424.86 371.55,425.07 372.55,425.22 373.55,425.31 374.55,425.37 375.55,425.39 376.55,425.40 377.55,425.40 378.55,425.40 379.55,425.40 380.55,425.40 381.55,425.40 382.55,425.40 383.55,425.40 384.55,425.40 385.55,425.40 386.55,425.40 387.55,425.40 388.55,425.40 389.55,425.40 390.55,425.40 391.55,425.40 392.55,425.40 393.55,425.40 394.55,425.40 395.55,425.39 396.55,425.39 397.55,425.37 398.55,425.33 399.55,425.27 400.55,425.19 401.55,425.08 402.55,424.95 403.55,424.80 404.55,424.64 405.55,424.46 406.55,424.27 407.55,424.06 408.55,423.82 409.55,423.55 410.55,423.22 411.55,422.86 412.55,422.47 413.55,422.07 414.55,421.67 415.55,421.29 416.55,420.94 417.55,420.64 418.55,420.40 419.55,420.22 420.55,420.09 421.55,420.00 422.55,419.93 423.55,419.87 424.55,419.82 425.55,419.77 426.55,419.73 427.55,419.69 428.55,419.66 429.55,419.64 430.55,419.62 431.55,419.62 432.55,419.64 433.55,419.70 434.55,419.81 435.55,419.98 436.55,420.19 437.55,420.45 438.55,420.74 439.55,421.04 440.55,421.34 441.55,421.61 442.55,421.85 443.55,422.04 444.55,422.16 445.55,422.20 446.55,422.16 447.55,422.03 448.55,421.83 449.55,421.56 450.55,421.23 451.55,420.86 452.55,420.45 453.55,419.98 454.55,419.44 455.55,418.81 456.55,418.08 457.55,417.25 458.55,416.33 459.55,415.36 460.55,414.37 461.55,413.38 462.55,412.43 463.55,411.54 464.55,410.73 465.55,410.01 466.55,409.35 467.55,408.74 468.55,408.19 469.55,407.66 470.55,407.15 471.55,406.66 472.55,406.17 473.55,405.67 474.55,405.15 475.55,404.62 476.55,404.04 477.55,403.43 478.55,402.76 479.55,402.02 480.55,401.21 481.55,400.32 482.55,399.35 483.55,398.31 484.55,397.20 485.55,396.03 486.55,394.80 487.55,393.53 488.55,392.20 489.55,390.81 490.55,389.36 491.55,387.84 492.55,386.26 493.55,384.62 494.55,382.93 495.55,381.21 496.55,379.47 497.55,377.72 498.55,375.95 499.55,374.18 500.55,372.40 501.55,370.57 502.55,368.69 503.55,366.71 504.55,364.60 505.55,362.31 506.55,359.81 507.55,357.05 508.55,354.01 509.55,350.73 510.55,347.25 511.55,343.59 512.55,339.80 513.55,335.91 514.55,331.95 515.55,327.95 516.55,323.94 517.55,319.95 518.55,315.99 519.55,312.10 520.55,308.37 521.55,304.85 522.55,301.59 523.55,298.61 524.55,295.92 525.55,293.54 526.55,291.46 527.55,289.65 528.55,288.06 529.55,286.68 530.55,285.54 531.55,284.67 532.55,284.14 533.55,283.95 534.55,284.13 535.55,284.74 536.55,285.88 537.55,287.73 538.55,290.40 539.55,293.86 540.55,297.97 541.55,302.55 542.55,307.48 543.55,312.68 544.55,318.12 545.55,323.81 546.55,329.81 547.55,336.13 548.55,342.70 549.55,349.40 550.55,356.09 551.55,362.53 552.55,368.36 553.55,373.12 554.00,376.45 L554.00,425.70 L308.55,425.70 Z" fill="#a9a9a9" fill-opacity="0.25" stroke="none"/>
<path d="M308.55,425.11 L309.55,425.07 310.55,425.01 311.55,424.95 312.55,424.88 313.55,424.82 314.55,424.74 315.55,424.67 316.55,424.59 317.55,424.51 318.55,424.42 319.55,424.34 320.55,424.25 321.55,424.16 322.55,424.08 323.55,424.00 324.55,423.93 325.55,423.87 326.55,423.81 327.55,423.77 328.55,423.74 329.55,423.72 330.55,423.72 331.55,423.72 332.55,423.73 333.55,423.75 334.55,423.78 335.55,423.81 336.55,423.84 337.55,423.88 338.55,423.92 339.55,423.97 340.55,424.04 341.55,424.12 342.55,424.22 343.55,424.35 344.55,424.50 345.55,424.66 346.55,424.82 347.55,424.98 348.55,425.13 349.55,425.25 350.55,425.35 351.55,425.42 352.55,425.46 353.55,425.48 354.55,425.49 355.55,425.49 356.55,425.49 357.55,425.49 358.55,425.48 359.55,425.48 360.55,425.47 361.55,425.46 362.55,425.46 363.55,425.45 364.55,425.44 365.55,425.43 366.55,425.42 367.55,425.41 368.55,425.39 369.55,425.38 370.55,425.37 371.55,425.35 372.55,425.34 373.55,425.32 374.55,425.30 375.55,425.28 376.55,425.25 377.55,425.22 378.55,425.17 379.55,425.12 380.55,425.07 381.55,425.01 382.55,424.94 383.55,424.86 384.55,424.78 385.55,424.70 386.55,424.62 387.55,424.53 388.55,424.43 389.55,424.33 390.55,424.23 391.55,424.11 392.55,423.99 393.55,423.85 394.55,423.70 395.55,423.55 396.55,423.38 397.55,423.20 398.55,423.02 399.55,422.83 400.55,422.64 401.55,422.44 402.55,422.24 403.55,422.04 404.55,421.83 405.55,421.61 406.55,421.38 407.55,421.14 408.55,420.88 409.55,420.62 410.55,420.34 411.55,420.06 412.55,419.78 413.55,419.51 414.55,419.24 415.55,418.98 416.55,418.73 417.55,418.51 418.55,418.30 419.55,418.11 420.55,417.95 421.55,417.80 422.55,417.68 423.55,417.56 424.55,417.45 425.55,417.35 426.55,417.25 427.55,417.15 428.55,417.05 429.55,416.93 430.55,416.80 431.55,416.66 432.55,416.50 433.55,416.30 434.55,416.08 435.55,415.82 436.55,415.53 437.55,415.22 438.55,414.88 439.55,414.52 440.55,414.14 441.55,413.76 442.55,413.37 443.55,412.99 444.55,412.61 445.55,412.24 446.55,411.88 447.55,411.54 448.55,411.23 449.55,410.94 450.55,410.68 451.55,410.45 452.55,410.24 453.55,410.05 454.55,409.86 455.55,409.69 456.55,409.51 457.55,409.31 458.55,409.11 459.55,408.87 460.55,408.60 461.55,408.28 462.55,407.89 463.55,407.41 464.55,406.81 465.55,406.10 466.55,405.27 467.55,404.36 468.55,403.37 469.55,402.33 470.55,401.25 471.55,400.11 472.55,398.91 473.55,397.63 474.55,396.28 475.55,394.87 476.55,393.41 477.55,391.93 478.55,390.46 479.55,389.02 480.55,387.63 481.55,386.31 482.55,385.06 483.55,383.88 484.55,382.76 485.55,381.66 486.55,380.58 487.55,379.47 488.55,378.31 489.55,377.07 490.55,375.75 491.55,374.33 492.55,372.81 493.55,371.19 494.55,369.48 495.55,367.68 496.55,365.79 497.55,363.80 498.55,361.72 499.55,359.56 500.55,357.37 501.55,355.21 502.55,353.14 503.55,351.20 504.55,349.38 505.55,347.66 506.55,345.99 507.55,344.31 508.55,342.55 509.55,340.67 510.55,338.65 511.55,336.49 512.55,334.26 513.55,332.02 514.55,329.82 515.55,327.71 516.55,325.68 517.55,323.74 518.55,321.92 519.55,320.25 520.55,318.76 521.55,317.44 522.55,316.28 523.55,315.26 524.55,314.34 525.55,313.55 526.55,312.90 527.55,312.42 528.55,312.16 529.55,312.13 530.55,312.34 531.55,312.79 532.55,313.47 533.55,314.37 534.55,315.52 535.55,316.98 536.55,318.84 537.55,321.14 538.55,323.78 539.55,326.62 540.55,329.55 541.55,332.57 542.55,335.79 543.55,339.30 544.55,343.18 545.55,347.43 546.55,352.00 547.55,356.81 548.55,361.74 549.55,366.72 550.55,371.64 551.55,376.37 552.55,380.65 553.55,384.13 554.00,386.57 L554.00,425.70 L308.55,425.70 Z" fill="#ff0000" fill-opacity="0.25" stroke="none"/>
<path d="M308.55,426.85 L309.55,426.85 310.55,426.84 311.55,426.83 312.55,426.82 313.55,426.81 314.55,426.80 315.55,426.79 316.55,426.78 317.55,426.78 318.55,426.77 319.55,426.76 320.55,426.76 321.55,426.75 322.55,426.75 323.55,426.74 324.55,426.73 325.55,426.73 326.55,426.72 327.55,426.71 328.55,426.70 329.55,426.69 330.55,426.67 331.55,426.66 332.55,426.64 333.55,426.61 334.55,426.56 335.55,426.47 336.55,426.35 337.55,426.18 338.55,425.97 339.55,425.75 340.55,425.52 341.55,425.29 342.55,425.07 343.55,424.85 344.55,424.64 345.55,424.43 346.55,424.23 347.55,424.04 348.55,423.87 349.55,423.71 350.55,423.56 351.55,423.43 352.55,423.30 353.55,423.17 354.55,423.07 355.55,422.98 356.55,422.91 357.55,422.87 358.55,422.86 359.55,422.89 360.55,422.96 361.55,423.05 362.55,423.18 363.55,423.32 364.55,423.48 365.55,423.66 366.55,423.87 367.55,424.10 368.55,424.35 369.55,424.61 370.55,424.86 371.55,425.06 372.55,425.22 373.55,425.32 374.55,425.37 375.55,425.39 376.55,425.40 377.55,425.40 378.55,425.40 379.55,425.40 380.55,425.40 381.55,425.40 382.55,425.40 383.55,425.40 384.55,425.40 385.55,425.40 386.55,425.40 387.55,425.40 388.55,425.40 389.55,425.40 390.55,425.40 391.55,425.40 392.55,425.40 393.55,425.40 394.55,425.40 395.55,425.40 396.55,425.39 397.55,425.37 398.55,425.33 399.55,425.27 400.55,425.19 401.55,425.08 402.55,424.95 403.55,424.80 404.55,424.63 405.55,424.45 406.55,424.26 407.55,424.04 408.55,423.80 409.55,423.52 410.55,423.19 411.55,422.83 412.55,422.43 413.55,422.02 414.55,421.62 415.55,421.23 416.55,420.88 417.55,420.57 418.55,420.33 419.55,420.15 420.55,420.01 421.55,419.92 422.55,419.85 423.55,419.79 424.55,419.73 425.55,419.69 426.55,419.64 427.55,419.61 428.55,419.58 429.55,419.55 430.55,419.54 431.55,419.53 432.55,419.56 433.55,419.62 434.55,419.73 435.55,419.89 436.55,420.12 437.55,420.38 438.55,420.67 439.55,420.98 440.55,421.28 441.55,421.56 442.55,421.80 443.55,421.99 444.55,422.11 445.55,422.15 446.55,422.11 447.55,421.98 448.55,421.78 449.55,421.50 450.55,421.17 451.55,420.80 452.55,420.37 453.55,419.90 454.55,419.35 455.55,418.72 456.55,417.97 457.55,417.13 458.55,416.20 459.55,415.21 460.55,414.20 461.55,413.20 462.55,412.23 463.55,411.33 464.55,410.51 465.55,409.77 466.55,409.10 467.55,408.49 468.55,407.93 469.55,407.39 470.55,406.88 471.55,406.37 472.55,405.88 473.55,405.37 474.55,404.85 475.55,404.30 476.55,403.72 477.55,403.09 478.55,402.41 479.55,401.67 480.55,400.84 481.55,399.94 482.55,398.96 483.55,397.90 484.55,396.77 485.55,395.58 486.55,394.34 487.55,393.05 488.55,391.70 489.55,390.29 490.55,388.81 491.55,387.27 492.55,385.66 493.55,384.00 494.55,382.29 495.55,380.54 496.55,378.77 497.55,376.99 498.55,375.20 499.55,373.41 500.55,371.59 501.55,369.74 502.55,367.83 503.55,365.82 504.55,363.67 505.55,361.35 506.55,358.81 507.55,356.01 508.55,352.93 509.55,349.60 510.55,346.06 511.55,342.35 512.55,338.50 513.55,334.55 514.55,330.53 515.55,326.47 516.55,322.40 517.55,318.34 518.55,314.32 519.55,310.38 520.55,306.59 521.55,303.01 522.55,299.70 523.55,296.68 524.55,293.95 525.55,291.54 526.55,289.42 527.55,287.58 528.55,285.97 529.55,284.57 530.55,283.41 531.55,282.53 532.55,281.99 533.55,281.80 534.55,281.98 535.55,282.60 536.55,283.76 537.55,285.64 538.55,288.35 539.55,291.86 540.55,296.03 541.55,300.68 542.55,305.69 543.55,310.96 544.55,316.49 545.55,322.27 546.55,328.36 547.55,334.77 548.55,341.44 549.55,348.24 550.55,355.03 551.55,361.58 552.55,367.50 553.55,372.32 554.00,375.71 L554.00,425.70 L308.55,425.70 Z" fill="#0000ff" fill-opacity="0.25" stroke="none"/>
<path d="M308.55,424.57 L309.55,424.50 310.55,424.42 311.55,424.32 312.55,424.21 313.55,424.11 314.55,423.99 315.55,423.88 316.55,423.77 317.55,423.65 318.55,423.54 319.55,423.44 320.55,423.34 321.55,423.25 322.55,423.17 323.55,423.10 324.55,423.03 325.55,422.97 326.55,422.92 327.55,422.88 328.55,422.85 329.55,422.83 330.55,422.83 331.55,422.86 332.55,422.89 333.55,422.95 334.55,423.02 335.55,423.09 336.55,423.18 337.55,423.27 338.55,423.37 339.55,423.47 340.55,423.56 341.55,423.66 342.55,423.76 343.55,423.86 344.55,423.97 345.55,424.08 346.55,424.20 347.55,424.31 348.55,424.42 349.55,424.52 350.55,424.60 351.55,424.67 352.55,424.73 353.55,424.78 354.55,424.83 355.55,424.86 356.55,424.90 357.55,424.93 358.55,424.97 359.55,425.00 360.55,425.02 361.55,425.05 362.55,425.08 363.55,425.10 364.55,425.12 365.55,425.14 366.55,425.15 367.55,425.17 368.55,425.18 369.55,425.19 370.55,425.19 371.55,425.18 372.55,425.16 373.55,425.13 374.55,425.08 375.55,425.00 376.55,424.91 377.55,424.81 378.55,424.69 379.55,424.57 380.55,424.44 381.55,424.31 382.55,424.18 383.55,424.06 384.55,423.94 385.55,423.83 386.55,423.71 387.55,423.60 388.55,423.49 389.55,423.37 390.55,423.24 391.55,423.12 392.55,422.98 393.55,422.84 394.55,422.69 395.55,422.52 396.55,422.35 397.55,422.15 398.55,421.93 399.55,421.68 400.55,421.41 401.55,421.11 402.55,420.79 403.55,420.46 404.55,420.12 405.55,419.78 406.55,419.43 407.55,419.08 408.55,418.74 409.55,418.38 410.55,418.02 411.55,417.64 412.55,417.24 413.55,416.82 414.55,416.37 415.55,415.91 416.55,415.44 417.55,414.96 418.55,414.49 419.55,414.02 420.55,413.57 421.55,413.11 422.55,412.67 423.55,412.22 424.55,411.78 425.55,411.34 426.55,410.90 427.55,410.47 428.55,410.04 429.55,409.61 430.55,409.18 431.55,408.75 432.55,408.33 433.55,407.91 434.55,407.50 435.55,407.09 436.55,406.68 437.55,406.28 438.55,405.88 439.55,405.49 440.55,405.10 441.55,404.72 442.55,404.35 443.55,404.00 444.55,403.65 445.55,403.31 446.55,402.98 447.55,402.66 448.55,402.35 449.55,402.03 450.55,401.72 451.55,401.40 452.55,401.09 453.55,400.77 454.55,400.44 455.55,400.10 456.55,399.75 457.55,399.39 458.55,399.02 459.55,398.62 460.55,398.21 461.55,397.79 462.55,397.34 463.55,396.87 464.55,396.37 465.55,395.84 466.55,395.28 467.55,394.67 468.55,394.01 469.55,393.27 470.55,392.43 471.55,391.46 472.55,390.32 473.55,389.01 474.55,387.55 475.55,385.97 476.55,384.34 477.55,382.71 478.55,381.12 479.55,379.61 480.55,378.17 481.55,376.80 482.55,375.48 483.55,374.20 484.55,372.95 485.55,371.75 486.55,370.59 487.55,369.49 488.55,368.44 489.55,367.44 490.55,366.49 491.55,365.58 492.55,364.71 493.55,363.85 494.55,362.99 495.55,362.14 496.55,361.29 497.55,360.44 498.55,359.58 499.55,358.72 500.55,357.86 501.55,357.00 502.55,356.12 503.55,355.24 504.55,354.34 505.55,353.42 506.55,352.48 507.55,351.52 508.55,350.55 509.55,349.56 510.55,348.55 511.55,347.53 512.55,346.48 513.55,345.40 514.55,344.30 515.55,343.18 516.55,342.09 517.55,341.09 518.55,340.19 519.55,339.42 520.55,338.79 521.55,338.30 522.55,337.98 523.55,337.84 524.55,337.89 525.55,338.10 526.55,338.46 527.55,338.93 528.55,339.50 529.55,340.16 530.55,340.94 531.55,341.86 532.55,342.92 533.55,344.13 534.55,345.49 535.55,346.96 536.55,348.55 537.55,350.28 538.55,352.14 539.55,354.16 540.55,356.35 541.55,358.70 542.55,361.21 543.55,363.89 544.55,366.76 545.55,369.83 546.55,373.07 547.55,376.42 548.55,379.81 549.55,383.19 550.55,386.52 551.55,389.71 552.55,392.60 553.55,394.94 554.00,396.59" fill="none" stroke="#008000" stroke-width="1.30" stroke-linejoin="round"/>
<path d="M308.55,426.83 L309.55,426.82 310.55,426.81 311.55,426.81 312.55,426.80 313.55,426.79 314.55,426.78 315.55,426.77 316.55,426.76 317.55,426.75 318.55,426.75 319.55,426.74 320.55,426.74 321.55,426.73 322.55,426.72 323.55,426.72 324.55,426.71 325.55,426.70 326.55,426.70 327.55,426.69 328.55,426.68 329.55,426.67 330.55,426.65 331.55,426.64 332.55,426.62 333.55,426.59 334.55,426.54 335.55,426.46 336.55,426.33 337.55,426.16 338.55,425.96 339.55,425.74 340.55,425.52 341.55,425.29 342.55,425.08 343.55,424.86 344.55,424.65 345.55,424.44 346.55,424.25 347.55,424.06 348.55,423.89 349.55,423.74 350.55,423.59 351.55,423.45 352.55,423.33 353.55,423.21 354.55,423.10 355.55,423.01 356.55,422.95 357.55,422.91 358.55,422.90 359.55,422.93 360.55,422.99 361.55,423.09 362.55,423.21 363.55,423.35 364.55,423.51 365.55,423.69 366.55,423.89 367.55,424.12 368.55,424.37 369.55,424.62 370.55,424.86 371.55,425.07 372.55,425.22 373.55,425.31 374.55,425.37 375.55,425.39 376.55,425.40 377.55,425.40 378.55,425.40 379.55,425.40 380.55,425.40 381.55,425.40 382.55,425.40 383.55,425.40 384.55,425.40 385.55,425.40 386.55,425.40 387.55,425.40 388.55,425.40 389.55,425.40 390.55,425.40 391.55,425.40 392.55,425.40 393.55,425.40 394.55,425.40 395.55,425.39 396.55,425.39 397.55,425.37 398.55,425.33 399.55,425.27 400.55,425.19 401.55,425.08 402.55,424.95 403.55,424.80 404.55,424.64 405.55,424.46 406.55,424.27 407.55,424.06 408.55,423.82 409.55,423.55 410.55,423.22 411.55,422.86 412.55,422.47 413.55,422.07 414.55,421.67 415.55,421.29 416.55,420.94 417.55,420.64 418.55,420.40 419.55,420.22 420.55,420.09 421.55,420.00 422.55,419.93 423.55,419.87 424.55,419.82 425.55,419.77 426.55,419.73 427.55,419.69 428.55,419.66 429.55,419.64 430.55,419.62 431.55,419.62 432.55,419.64 433.55,419.70 434.55,419.81 435.55,419.98 436.55,420.19 437.55,420.45 438.55,420.74 439.55,421.04 440.55,421.34 441.55,421.61 442.55,421.85 443.55,422.04 444.55,422.16 445.55,422.20 446.55,422.16 447.55,422.03 448.55,421.83 449.55,421.56 450.55,421.23 451.55,420.86 452.55,420.45 453.55,419.98 454.55,419.44 455.55,418.81 456.55,418.08 457.55,417.25 458.55,416.33 459.55,415.36 460.55,414.37 461.55,413.38 462.55,412.43 463.55,411.54 464.55,410.73 465.55,410.01 466.55,409.35 467.55,408.74 468.55,408.19 469.55,407.66 470.55,407.15 471.55,406.66 472.55,406.17 473.55,405.67 474.55,405.15 475.55,404.62 476.55,404.04 477.55,403.43 478.55,402.76 479.55,402.02 480.55,401.21 481.55,400.32 482.55,399.35 483.55,398.31 484.55,397.20 485.55,396.03 486.55,394.80 487.55,393.53 488.55,392.20 489.55,390.81 490.55,389.36 491.55,387.84 492.55,386.26 493.55,384.62 494.55,382.93 495.55,381.21 496.55,379.47 497.55,377.72 498.55,375.95 499.55,374.18 500.55,372.40 501.55,370.57 502.55,368.69 503.55,366.71 504.55,364.60 505.55,362.31 506.55,359.81 507.55,357.05 508.55,354.01 509.55,350.73 510.55,347.25 511.55,343.59 512.55,339.80 513.55,335.91 514.55,331.95 515.55,327.95 516.55,323.94 517.55,319.95 518.55,315.99 519.55,312.10 520.55,308.37 521.55,304.85 522.55,301.59 523.55,298.61 524.55,295.92 525.55,293.54 526.55,291.46 527.55,289.65 528.55,288.06 529.55,286.68 530.55,285.54 531.55,284.67 532.55,284.14 533.55,283.95 534.55,284.13 535.55,284.74 536.55,285.88 537.55,287.73 538.55,290.40 539.55,293.86 540.55,297.97 541.55,302.55 542.55,307.48 543.55,312.68 544.55,318.12 545.55,323.81 546.55,329.81 547.55,336.13 548.55,342.70 549.55,349.40 550.55,356.09 551.55,362.53 552.55,368.36 553.55,373.12 554.00,376.45" fill="none" stroke="#a9a9a9" stroke-width="1.00" stroke-linejoin="round"/>
<path d="M308.55,425.11 L309.55,425.07 310.55,425.01 311.55,424.95 312.55,424.88 313.55,424.82 314.55,424.74 315.55,424.67 316.55,424.59 317.55,424.51 318.55,424.42 319.55,424.34 320.55,424.25 321.55,424.16 322.55,424.08 323.55,424.00 324.55,423.93 325.55,423.87 326.55,423.81 327.55,423.77 328.55,423.74 329.55,423.72 330.55,423.72 331.55,423.72 332.55,423.73 333.55,423.75 334.55,423.78 335.55,423.81 336.55,423.84 337.55,423.88 338.55,423.92 339.55,423.97 340.55,424.04 341.55,424.12 342.55,424.22 343.55,424.35 344.55,424.50 345.55,424.66 346.55,424.82 347.55,424.98 348.55,425.13 349.55,425.25 350.55,425.35 351.55,425.42 352.55,425.46 353.55,425.48 354.55,425.49 355.55,425.49 356.55,425.49 357.55,425.49 358.55,425.48 359.55,425.48 360.55,425.47 361.55,425.46 362.55,425.46 363.55,425.45 364.55,425.44 365.55,425.43 366.55,425.42 367.55,425.41 368.55,425.39 369.55,425.38 370.55,425.37 371.55,425.35 372.55,425.34 373.55,425.32 374.55,425.30 375.55,425.28 376.55,425.25 377.55,425.22 378.55,425.17 379.55,425.12 380.55,425.07 381.55,425.01 382.55,424.94 383.55,424.86 384.55,424.78 385.55,424.70 386.55,424.62 387.55,424.53 388.55,424.43 389.55,424.33 390.55,424.23 391.55,424.11 392.55,423.99 393.55,423.85 394.55,423.70 395.55,423.55 396.55,423.38 397.55,423.20 398.55,423.02 399.55,422.83 400.55,422.64 401.55,422.44 402.55,422.24 403.55,422.04 404.55,421.83 405.55,421.61 406.55,421.38 407.55,421.14 408.55,420.88 409.55,420.62 410.55,420.34 411.55,420.06 412.55,419.78 413.55,419.51 414.55,419.24 415.55,418.98 416.55,418.73 417.55,418.51 418.55,418.30 419.55,418.11 420.55,417.95 421.55,417.80 422.55,417.68 423.55,417.56 424.55,417.45 425.55,417.35 426.55,417.25 427.55,417.15 428.55,417.05 429.55,416.93 430.55,416.80 431.55,416.66 432.55,416.50 433.55,416.30 434.55,416.08 435.55,415.82 436.55,415.53 437.55,415.22 438.55,414.88 439.55,414.52 440.55,414.14 441.55,413.76 442.55,413.37 443.55,412.99 444.55,412.61 445.55,412.24 446.55,411.88 447.55,411.54 448.55,411.23 449.55,410.94 450.55,410.68 451.55,410.45 452.55,410.24 453.55,410.05 454.55,409.86 455.55,409.69 456.55,409.51 457.55,409.31 458.55,409.11 459.55,408.87 460.55,408.60 461.55,408.28 462.55,407.89 463.55,407.41 464.55,406.81 465.55,406.10 466.55,405.27 467.55,404.36 468.55,403.37 469.55,402.33 470.55,401.25 471.55,400.11 472.55,398.91 473.55,397.63 474.55,396.28 475.55,394.87 476.55,393.41 477.55,391.93 478.55,390.46 479.55,389.02 480.55,387.63 481.55,386.31 482.55,385.06 483.55,383.88 484.55,382.76 485.55,381.66 486.55,380.58 487.55,379.47 488.55,378.31 489.55,377.07 490.55,375.75 491.55,374.33 492.55,372.81 493.55,371.19 494.55,369.48 495.55,367.68 496.55,365.79 497.55,363.80 498.55,361.72 499.55,359.56 500.55,357.37 501.55,355.21 502.55,353.14 503.55,351.20 504.55,349.38 505.55,347.66 506.55,345.99 507.55,344.31 508.55,342.55 509.55,340.67 510.55,338.65 511.55,336.49 512.55,334.26 513.55,332.02 514.55,329.82 515.55,327.71 516.55,325.68 517.55,323.74 518.55,321.92 519.55,320.25 520.55,318.76 521.55,317.44 522.55,316.28 523.55,315.26 524.55,314.34 525.55,313.55 526.55,312.90 527.55,312.42 528.55,312.16 529.55,312.13 530.55,312.34 531.55,312.79 532.55,313.47 533.55,314.37 534.55,315.52 535.55,316.98 536.55,318.84 537.55,321.14 538.55,323.78 539.55,326.62 540.55,329.55 541.55,332.57 542.55,335.79 543.55,339.30 544.55,343.18 545.55,347.43 546.55,352.00 547.55,356.81 548.55,361.74 549.55,366.72 550.55,371.64 551.55,376.37 552.55,380.65 553.55,384.13 554.00,386.57" fill="none" stroke="#ff0000" stroke-width="1.30" stroke-linejoin="round"/>
<path d="M308.55,426.85 L309.55,426.85 310.55,426.84 311.55,426.83 312.55,426.82 313.55,426.81 314.55,426.80 315.55,426.79 316.55,426.78 317.55,426.78 318.55,426.77 319.55,426.76 320.55,426.76 321.55,426.75 322.55,426.75 323.55,426.74 324.55,426.73 325.55,426.73 326.55,426.72 327.55,426.71 328.55,426.70 329.55,426.69 330.55,426.67 331.55,426.66 332.55,426.64 333.55,426.61 334.55,426.56 335.55,426.47 336.55,426.35 337.55,426.18 338.55,425.97 339.55,425.75 340.55,425.52 341.55,425.29 342.55,425.07 343.55,424.85 344.55,424.64 345.55,424.43 346.55,424.23 347.55,424.04 348.55,423.87 349.55,423.71 350.55,423.56 351.55,423.43 352.55,423.30 353.55,423.17 354.55,423.07 355.55,422.98 356.55,422.91 357.55,422.87 358.55,422.86 359.55,422.89 360.55,422.96 361.55,423.05 362.55,423.18 363.55,423.32 364.55,423.48 365.55,423.66 366.55,423.87 367.55,424.10 368.55,424.35 369.55,424.61 370.55,424.86 371.55,425.06 372.55,425.22 373.55,425.32 374.55,425.37 375.55,425.39 376.55,425.40 377.55,425.40 378.55,425.40 379.55,425.40 380.55,425.40 381.55,425.40 382.55,425.40 383.55,425.40 384.55,425.40 385.55,425.40 386.55,425.40 387.55,425.40 388.55,425.40 389.55,425.40 390.55,425.40 391.55,425.40 392.55,425.40 393.55,425.40 394.55,425.40 395.55,425.40 396.55,425.39 397.55,425.37 398.55,425.33 399.55,425.27 400.55,425.19 401.55,425.08 402.55,424.95 403.55,424.80 404.55,424.63 405.55,424.45 406.55,424.26 407.55,424.04 408.55,423.80 409.55,423.52 410.55,423.19 411.55,422.83 412.55,422.43 413.55,422.02 414.55,421.62 415.55,421.23 416.55,420.88 417.55,420.57 418.55,420.33 419.55,420.15 420.55,420.01 421.55,419.92 422.55,419.85 423.55,419.79 424.55,419.73 425.55,419.69 426.55,419.64 427.55,419.61 428.55,419.58 429.55,419.55 430.55,419.54 431.55,419.53 432.55,419.56 433.55,419.62 434.55,419.73 435.55,419.89 436.55,420.12 437.55,420.38 438.55,420.67 439.55,420.98 440.55,421.28 441.55,421.56 442.55,421.80 443.55,421.99 444.55,422.11 445.55,422.15 446.55,422.11 447.55,421.98 448.55,421.78 449.55,421.50 450.55,421.17 451.55,420.80 452.55,420.37 453.55,419.90 454.55,419.35 455.55,418.72 456.55,417.97 457.55,417.13 458.55,416.20 459.55,415.21 460.55,414.20 461.55,413.20 462.55,412.23 463.55,411.33 464.55,410.51 465.55,409.77 466.55,409.10 467.55,408.49 468.55,407.93 469.55,407.39 470.55,406.88 471.55,406.37 472.55,405.88 473.55,405.37 474.55,404.85 475.55,404.30 476.55,403.72 477.55,403.09 478.55,402.41 479.55,401.67 480.55,400.84 481.55,399.94 482.55,398.96 483.55,397.90 484.55,396.77 485.55,395.58 486.55,394.34 487.55,393.05 488.55,391.70 489.55,390.29 490.55,388.81 491.55,387.27 492.55,385.66 493.55,384.00 494.55,382.29 495.55,380.54 496.55,378.77 497.55,376.99 498.55,375.20 499.55,373.41 500.55,371.59 501.55,369.74 502.55,367.83 503.55,365.82 504.55,363.67 505.55,361.35 506.55,358.81 507.55,356.01 508.55,352.93 509.55,349.60 510.55,346.06 511.55,342.35 512.55,338.50 513.55,334.55 514.55,330.53 515.55,326.47 516.55,322.40 517.55,318.34 518.55,314.32 519.55,310.38 520.55,306.59 521.55,303.01 522.55,299.70 523.55,296.68 524.55,293.95 525.55,291.54 526.55,289.42 527.55,287.58 528.55,285.97 529.55,284.57 530.55,283.41 531.55,282.53 532.55,281.99 533.55,281.80 534.55,281.98 535.55,282.60 536.55,283.76 537.55,285.64 538.55,288.35 539.55,291.86 540.55,296.03 541.55,300.68 542.55,305.69 543.55,310.96 544.55,316.49 545.55,322.27 546.55,328.36 547.55,334.77 548.55,341.44 549.55,348.24 550.55,355.03 551.55,361.58 552.55,367.50 553.55,372.32 554.00,375.71" fill="none" stroke="#0000ff" stroke-width="1.30" stroke-linejoin="round"/>
</g>
<line x1="314.55" y1="268.70" x2="314.55" y2="425.60" stroke="#8a8a8a" stroke-width="1.10"/>
<text x="314.55" y="434.8" font-size="8.3" fill="#3a3a3a" text-anchor="middle" font-family="Liberation Sans, sans-serif" textLength="11.5" lengthAdjust="spacingAndGlyphs">0.5</text>
<text x="361.24" y="434.8" font-size="8.3" fill="#3a3a3a" text-anchor="middle" font-family="Liberation Sans, sans-serif" textLength="11.5" lengthAdjust="spacingAndGlyphs">0.6</text>
<text x="407.93" y="434.8" font-size="8.3" fill="#3a3a3a" text-anchor="middle" font-family="Liberation Sans, sans-serif" textLength="11.5" lengthAdjust="spacingAndGlyphs">0.7</text>
<text x="454.62" y="434.8" font-size="8.3" fill="#3a3a3a" text-anchor="middle" font-family="Liberation Sans, sans-serif" textLength="11.5" lengthAdjust="spacingAndGlyphs">0.8</text>
<text x="501.31" y="434.8" font-size="8.3" fill="#3a3a3a" text-anchor="middle" font-family="Liberation Sans, sans-serif" textLength="11.5" lengthAdjust="spacingAndGlyphs">0.9</text>
<text x="548.00" y="434.8" font-size="8.3" fill="#3a3a3a" text-anchor="middle" font-family="Liberation Sans, sans-serif" textLength="11.5" lengthAdjust="spacingAndGlyphs">1.0</text>
<text transform="translate(311.10,346.8) rotate(-90)" font-size="8.5" fill="#2a2a2a" text-anchor="middle" font-family="Liberation Sans, sans-serif" textLength="30.5" lengthAdjust="spacingAndGlyphs">density</text>
<line x1="320.33" y1="279.00" x2="335.87" y2="279.00" stroke="#45a845" stroke-width="1.7"/>
<text x="341.05" y="281.50" font-size="8.4" fill="#2a2a2a" font-family="Liberation Sans, sans-serif" textLength="107.1" lengthAdjust="spacingAndGlyphs">Direct only (mean AUC 0.893)</text>
<line x1="320.33" y1="290.30" x2="335.87" y2="290.30" stroke="#a0a0a0" stroke-width="1.7"/>
<text x="341.05" y="292.80" font-size="8.4" fill="#2a2a2a" font-family="Liberation Sans, sans-serif" textLength="78.0" lengthAdjust="spacingAndGlyphs">DS (mean AUC 0.933)</text>
<line x1="320.33" y1="301.60" x2="335.87" y2="301.60" stroke="#f23a3a" stroke-width="1.7"/>
<text x="341.05" y="304.10" font-size="8.4" fill="#2a2a2a" font-family="Liberation Sans, sans-serif" textLength="95.7" lengthAdjust="spacingAndGlyphs">Nguyen (mean AUC 0.921)</text>
<line x1="320.33" y1="312.70" x2="335.87" y2="312.70" stroke="#3a3af2" stroke-width="1.7"/>
<text x="341.05" y="315.20" font-size="8.4" fill="#2a2a2a" font-family="Liberation Sans, sans-serif" textLength="82.8" lengthAdjust="spacingAndGlyphs">SDS (mean AUC 0.936)</text>
<clipPath id="clipF"><rect x="570.50" y="260.00" width="215.50" height="166.20"/></clipPath>
<g clip-path="url(#clipF)">
<line x1="570.50" y1="425.50" x2="786.00" y2="425.50" stroke="#6e6e6e" stroke-width="1.3"/>
<path d="M564.50,424.19 L565.50,424.13 566.50,424.04 567.50,423.93 568.50,423.82 569.50,423.71 570.50,423.60 571.50,423.49 572.50,423.38 573.50,423.27 574.50,423.17 575.50,423.06 576.50,422.95 577.50,422.84 578.50,422.73 579.50,422.62 580.50,422.50 581.50,422.38 582.50,422.26 583.50,422.13 584.50,421.99 585.50,421.85 586.50,421.71 587.50,421.57 588.50,421.42 589.50,421.26 590.50,421.11 591.50,420.95 592.50,420.79 593.50,420.64 594.50,420.48 595.50,420.32 596.50,420.17 597.50,420.01 598.50,419.86 599.50,419.70 600.50,419.54 601.50,419.37 602.50,419.20 603.50,419.02 604.50,418.83 605.50,418.64 606.50,418.44 607.50,418.24 608.50,418.02 609.50,417.80 610.50,417.58 611.50,417.35 612.50,417.10 613.50,416.85 614.50,416.60 615.50,416.33 616.50,416.05 617.50,415.76 618.50,415.45 619.50,415.14 620.50,414.81 621.50,414.46 622.50,414.09 623.50,413.71 624.50,413.30 625.50,412.88 626.50,412.44 627.50,411.97 628.50,411.49 629.50,410.98 630.50,410.46 631.50,409.91 632.50,409.34 633.50,408.74 634.50,408.11 635.50,407.43 636.50,406.70 637.50,405.93 638.50,405.11 639.50,404.26 640.50,403.38 641.50,402.48 642.50,401.57 643.50,400.65 644.50,399.73 645.50,398.80 646.50,397.86 647.50,396.92 648.50,395.96 649.50,394.98 650.50,393.98 651.50,392.97 652.50,391.94 653.50,390.88 654.50,389.80 655.50,388.70 656.50,387.56 657.50,386.40 658.50,385.20 659.50,383.99 660.50,382.75 661.50,381.50 662.50,380.24 663.50,378.97 664.50,377.71 665.50,376.44 666.50,375.19 667.50,373.94 668.50,372.71 669.50,371.48 670.50,370.25 671.50,369.02 672.50,367.80 673.50,366.59 674.50,365.39 675.50,364.20 676.50,363.04 677.50,361.90 678.50,360.79 679.50,359.68 680.50,358.60 681.50,357.53 682.50,356.48 683.50,355.46 684.50,354.47 685.50,353.52 686.50,352.61 687.50,351.74 688.50,350.91 689.50,350.13 690.50,349.37 691.50,348.65 692.50,347.95 693.50,347.27 694.50,346.60 695.50,345.96 696.50,345.33 697.50,344.71 698.50,344.11 699.50,343.53 700.50,342.95 701.50,342.36 702.50,341.76 703.50,341.13 704.50,340.47 705.50,339.79 706.50,339.09 707.50,338.37 708.50,337.64 709.50,336.90 710.50,336.16 711.50,335.42 712.50,334.68 713.50,333.95 714.50,333.21 715.50,332.46 716.50,331.70 717.50,330.94 718.50,330.18 719.50,329.43 720.50,328.72 721.50,328.06 722.50,327.46 723.50,326.92 724.50,326.44 725.50,326.01 726.50,325.63 727.50,325.30 728.50,325.04 729.50,324.87 730.50,324.80 731.50,324.84 732.50,325.00 733.50,325.25 734.50,325.59 735.50,326.00 736.50,326.47 737.50,326.99 738.50,327.56 739.50,328.19 740.50,328.91 741.50,329.73 742.50,330.65 743.50,331.65 744.50,332.71 745.50,333.81 746.50,334.95 747.50,336.10 748.50,337.27 749.50,338.48 750.50,339.72 751.50,340.99 752.50,342.30 753.50,343.63 754.50,344.97 755.50,346.31 756.50,347.65 757.50,348.99 758.50,350.30 759.50,351.61 760.50,352.91 761.50,354.20 762.50,355.49 763.50,356.78 764.50,358.08 765.50,359.40 766.50,360.73 767.50,362.07 768.50,363.44 769.50,364.83 770.50,366.24 771.50,367.66 772.50,369.10 773.50,370.57 774.50,372.05 775.50,373.55 776.50,375.08 777.50,376.64 778.50,378.22 779.50,379.85 780.50,381.51 781.50,383.22 782.50,384.96 783.50,386.73 784.50,388.51 785.50,390.29 786.50,392.07 787.50,393.83 788.50,395.57 789.50,397.24 790.50,398.76 791.50,400.00 792.00,400.88 L792.00,425.70 L564.50,425.70 Z" fill="#008000" fill-opacity="0.25" stroke="none"/>
<path d="M563.70,425.32 L564.70,425.32 565.70,425.31 566.70,425.31 567.70,425.31 568.70,425.30 569.70,425.30 570.70,425.30 571.70,425.29 572.70,425.29 573.70,425.29 574.70,425.29 575.70,425.28 576.70,425.28 577.70,425.28 578.70,425.28 579.70,425.27 580.70,425.27 581.70,425.27 582.70,425.27 583.70,425.26 584.70,425.26 585.70,425.26 586.70,425.26 587.70,425.26 588.70,425.26 589.70,425.25 590.70,425.25 591.70,425.25 592.70,425.25 593.70,425.25 594.70,425.24 595.70,425.24 596.70,425.24 597.70,425.24 598.70,425.24 599.70,425.23 600.70,425.23 601.70,425.23 602.70,425.23 603.70,425.22 604.70,425.22 605.70,425.22 606.70,425.21 607.70,425.21 608.70,425.21 609.70,425.20 610.70,425.20 611.70,425.20 612.70,425.19 613.70,425.19 614.70,425.18 615.70,425.18 616.70,425.17 617.70,425.17 618.70,425.16 619.70,425.16 620.70,425.15 621.70,425.14 622.70,425.14 623.70,425.13 624.70,425.12 625.70,425.11 626.70,425.09 627.70,425.06 628.70,425.02 629.70,424.95 630.70,424.87 631.70,424.76 632.70,424.63 633.70,424.49 634.70,424.33 635.70,424.16 636.70,423.98 637.70,423.80 638.70,423.61 639.70,423.42 640.70,423.23 641.70,423.04 642.70,422.84 643.70,422.63 644.70,422.41 645.70,422.17 646.70,421.93 647.70,421.67 648.70,421.41 649.70,421.13 650.70,420.85 651.70,420.55 652.70,420.25 653.70,419.94 654.70,419.61 655.70,419.28 656.70,418.93 657.70,418.56 658.70,418.18 659.70,417.78 660.70,417.36 661.70,416.92 662.70,416.44 663.70,415.94 664.70,415.40 665.70,414.83 666.70,414.23 667.70,413.61 668.70,412.96 669.70,412.28 670.70,411.60 671.70,410.90 672.70,410.19 673.70,409.47 674.70,408.75 675.70,408.03 676.70,407.31 677.70,406.60 678.70,405.89 679.70,405.18 680.70,404.46 681.70,403.74 682.70,403.01 683.70,402.27 684.70,401.50 685.70,400.72 686.70,399.91 687.70,399.06 688.70,398.19 689.70,397.27 690.70,396.30 691.70,395.28 692.70,394.19 693.70,393.05 694.70,391.84 695.70,390.58 696.70,389.26 697.70,387.88 698.70,386.44 699.70,384.93 700.70,383.36 701.70,381.71 702.70,379.99 703.70,378.20 704.70,376.34 705.70,374.40 706.70,372.37 707.70,370.26 708.70,368.05 709.70,365.75 710.70,363.38 711.70,360.93 712.70,358.42 713.70,355.85 714.70,353.24 715.70,350.60 716.70,347.96 717.70,345.31 718.70,342.66 719.70,340.00 720.70,337.37 721.70,334.77 722.70,332.24 723.70,329.78 724.70,327.42 725.70,325.16 726.70,322.98 727.70,320.86 728.70,318.75 729.70,316.63 730.70,314.49 731.70,312.34 732.70,310.20 733.70,308.12 734.70,306.12 735.70,304.24 736.70,302.46 737.70,300.77 738.70,299.14 739.70,297.54 740.70,295.97 741.70,294.42 742.70,292.89 743.70,291.42 744.70,290.01 745.70,288.70 746.70,287.48 747.70,286.37 748.70,285.36 749.70,284.48 750.70,283.73 751.70,283.11 752.70,282.61 753.70,282.21 754.70,281.92 755.70,281.75 756.70,281.71 757.70,281.83 758.70,282.10 759.70,282.51 760.70,283.03 761.70,283.69 762.70,284.48 763.70,285.43 764.70,286.54 765.70,287.78 766.70,289.15 767.70,290.62 768.70,292.19 769.70,293.89 770.70,295.70 771.70,297.63 772.70,299.68 773.70,301.88 774.70,304.26 775.70,306.86 776.70,309.76 777.70,312.99 778.70,316.62 779.70,320.68 780.70,325.22 781.70,330.26 782.70,335.83 783.70,341.86 784.70,348.25 785.70,354.82 786.70,361.46 787.70,368.03 788.70,374.35 789.70,380.09 790.70,384.79 791.20,388.13 L791.20,425.70 L563.70,425.70 Z" fill="#a9a9a9" fill-opacity="0.25" stroke="none"/>
<path d="M564.50,424.99 L565.50,424.93 566.50,424.84 567.50,424.73 568.50,424.62 569.50,424.51 570.50,424.40 571.50,424.29 572.50,424.18 573.50,424.06 574.50,423.95 575.50,423.84 576.50,423.73 577.50,423.62 578.50,423.51 579.50,423.39 580.50,423.28 581.50,423.17 582.50,423.05 583.50,422.94 584.50,422.82 585.50,422.71 586.50,422.59 587.50,422.47 588.50,422.36 589.50,422.26 590.50,422.16 591.50,422.06 592.50,421.97 593.50,421.88 594.50,421.79 595.50,421.71 596.50,421.62 597.50,421.54 598.50,421.46 599.50,421.39 600.50,421.31 601.50,421.24 602.50,421.17 603.50,421.10 604.50,421.04 605.50,420.97 606.50,420.91 607.50,420.86 608.50,420.80 609.50,420.75 610.50,420.70 611.50,420.66 612.50,420.61 613.50,420.56 614.50,420.51 615.50,420.46 616.50,420.41 617.50,420.35 618.50,420.29 619.50,420.23 620.50,420.16 621.50,420.09 622.50,420.01 623.50,419.93 624.50,419.85 625.50,419.77 626.50,419.68 627.50,419.58 628.50,419.48 629.50,419.38 630.50,419.28 631.50,419.17 632.50,419.05 633.50,418.93 634.50,418.81 635.50,418.67 636.50,418.54 637.50,418.39 638.50,418.24 639.50,418.08 640.50,417.90 641.50,417.72 642.50,417.52 643.50,417.32 644.50,417.09 645.50,416.85 646.50,416.59 647.50,416.31 648.50,416.00 649.50,415.65 650.50,415.27 651.50,414.85 652.50,414.40 653.50,413.91 654.50,413.38 655.50,412.80 656.50,412.16 657.50,411.46 658.50,410.68 659.50,409.82 660.50,408.90 661.50,407.90 662.50,406.84 663.50,405.70 664.50,404.49 665.50,403.21 666.50,401.88 667.50,400.50 668.50,399.09 669.50,397.65 670.50,396.17 671.50,394.66 672.50,393.11 673.50,391.54 674.50,389.96 675.50,388.36 676.50,386.76 677.50,385.17 678.50,383.58 679.50,381.99 680.50,380.41 681.50,378.82 682.50,377.23 683.50,375.63 684.50,374.02 685.50,372.40 686.50,370.76 687.50,369.10 688.50,367.43 689.50,365.73 690.50,364.02 691.50,362.29 692.50,360.54 693.50,358.77 694.50,356.98 695.50,355.16 696.50,353.31 697.50,351.44 698.50,349.57 699.50,347.69 700.50,345.84 701.50,344.03 702.50,342.25 703.50,340.51 704.50,338.80 705.50,337.11 706.50,335.45 707.50,333.80 708.50,332.17 709.50,330.56 710.50,329.00 711.50,327.52 712.50,326.12 713.50,324.83 714.50,323.64 715.50,322.55 716.50,321.52 717.50,320.57 718.50,319.69 719.50,318.88 720.50,318.15 721.50,317.51 722.50,316.96 723.50,316.47 724.50,316.03 725.50,315.62 726.50,315.25 727.50,314.92 728.50,314.63 729.50,314.38 730.50,314.19 731.50,314.06 732.50,313.98 733.50,313.95 734.50,313.95 735.50,313.97 736.50,314.00 737.50,314.05 738.50,314.11 739.50,314.18 740.50,314.25 741.50,314.34 742.50,314.45 743.50,314.59 744.50,314.78 745.50,315.02 746.50,315.33 747.50,315.70 748.50,316.13 749.50,316.61 750.50,317.13 751.50,317.68 752.50,318.27 753.50,318.89 754.50,319.56 755.50,320.28 756.50,321.07 757.50,321.93 758.50,322.87 759.50,323.87 760.50,324.92 761.50,326.03 762.50,327.18 763.50,328.37 764.50,329.59 765.50,330.86 766.50,332.18 767.50,333.55 768.50,334.99 769.50,336.50 770.50,338.08 771.50,339.74 772.50,341.47 773.50,343.29 774.50,345.21 775.50,347.25 776.50,349.45 777.50,351.80 778.50,354.31 779.50,356.97 780.50,359.73 781.50,362.58 782.50,365.46 783.50,368.34 784.50,371.20 785.50,374.03 786.50,376.80 787.50,379.54 788.50,382.23 789.50,384.81 790.50,387.14 791.50,389.06 792.00,390.42 L792.00,425.70 L564.50,425.70 Z" fill="#ff0000" fill-opacity="0.25" stroke="none"/>
<path d="M564.50,425.32 L565.50,425.32 566.50,425.31 567.50,425.31 568.50,425.31 569.50,425.30 570.50,425.30 571.50,425.30 572.50,425.29 573.50,425.29 574.50,425.29 575.50,425.28 576.50,425.28 577.50,425.28 578.50,425.28 579.50,425.27 580.50,425.27 581.50,425.27 582.50,425.27 583.50,425.27 584.50,425.26 585.50,425.26 586.50,425.26 587.50,425.26 588.50,425.26 589.50,425.25 590.50,425.25 591.50,425.25 592.50,425.25 593.50,425.25 594.50,425.25 595.50,425.24 596.50,425.24 597.50,425.24 598.50,425.24 599.50,425.23 600.50,425.23 601.50,425.23 602.50,425.23 603.50,425.22 604.50,425.22 605.50,425.22 606.50,425.22 607.50,425.21 608.50,425.21 609.50,425.21 610.50,425.20 611.50,425.20 612.50,425.19 613.50,425.19 614.50,425.19 615.50,425.18 616.50,425.18 617.50,425.17 618.50,425.17 619.50,425.16 620.50,425.15 621.50,425.15 622.50,425.14 623.50,425.13 624.50,425.13 625.50,425.12 626.50,425.11 627.50,425.09 628.50,425.06 629.50,425.01 630.50,424.95 631.50,424.86 632.50,424.75 633.50,424.62 634.50,424.47 635.50,424.31 636.50,424.14 637.50,423.96 638.50,423.77 639.50,423.58 640.50,423.38 641.50,423.19 642.50,422.99 643.50,422.79 644.50,422.57 645.50,422.35 646.50,422.11 647.50,421.86 648.50,421.60 649.50,421.33 650.50,421.05 651.50,420.76 652.50,420.46 653.50,420.15 654.50,419.83 655.50,419.50 656.50,419.15 657.50,418.80 658.50,418.42 659.50,418.03 660.50,417.63 661.50,417.20 662.50,416.74 663.50,416.26 664.50,415.75 665.50,415.20 666.50,414.62 667.50,414.01 668.50,413.37 669.50,412.70 670.50,412.02 671.50,411.32 672.50,410.60 673.50,409.88 674.50,409.15 675.50,408.41 676.50,407.68 677.50,406.95 678.50,406.22 679.50,405.49 680.50,404.77 681.50,404.04 682.50,403.30 683.50,402.56 684.50,401.80 685.50,401.02 686.50,400.22 687.50,399.39 688.50,398.53 689.50,397.63 690.50,396.69 691.50,395.71 692.50,394.66 693.50,393.56 694.50,392.39 695.50,391.16 696.50,389.87 697.50,388.52 698.50,387.12 699.50,385.65 700.50,384.11 701.50,382.50 702.50,380.82 703.50,379.06 704.50,377.24 705.50,375.34 706.50,373.36 707.50,371.29 708.50,369.13 709.50,366.88 710.50,364.54 711.50,362.12 712.50,359.62 713.50,357.05 714.50,354.43 715.50,351.77 716.50,349.08 717.50,346.38 718.50,343.68 719.50,340.97 720.50,338.26 721.50,335.57 722.50,332.92 723.50,330.34 724.50,327.83 725.50,325.43 726.50,323.12 727.50,320.89 728.50,318.72 729.50,316.57 730.50,314.41 731.50,312.23 732.50,310.03 733.50,307.85 734.50,305.73 735.50,303.69 736.50,301.77 737.50,299.95 738.50,298.22 739.50,296.56 740.50,294.94 741.50,293.33 742.50,291.75 743.50,290.19 744.50,288.68 745.50,287.25 746.50,285.91 747.50,284.67 748.50,283.53 749.50,282.50 750.50,281.60 751.50,280.84 752.50,280.21 753.50,279.70 754.50,279.29 755.50,278.99 756.50,278.82 757.50,278.78 758.50,278.91 759.50,279.18 760.50,279.59 761.50,280.13 762.50,280.80 763.50,281.61 764.50,282.58 765.50,283.71 766.50,284.98 767.50,286.37 768.50,287.87 769.50,289.48 770.50,291.20 771.50,293.05 772.50,295.02 773.50,297.12 774.50,299.36 775.50,301.79 776.50,304.45 777.50,307.40 778.50,310.70 779.50,314.40 780.50,318.55 781.50,323.17 782.50,328.32 783.50,334.00 784.50,340.16 785.50,346.67 786.50,353.38 787.50,360.16 788.50,366.86 789.50,373.31 790.50,379.17 791.50,383.97 792.00,387.37 L792.00,425.70 L564.50,425.70 Z" fill="#0000ff" fill-opacity="0.25" stroke="none"/>
<path d="M564.50,424.19 L565.50,424.13 566.50,424.04 567.50,423.93 568.50,423.82 569.50,423.71 570.50,423.60 571.50,423.49 572.50,423.38 573.50,423.27 574.50,423.17 575.50,423.06 576.50,422.95 577.50,422.84 578.50,422.73 579.50,422.62 580.50,422.50 581.50,422.38 582.50,422.26 583.50,422.13 584.50,421.99 585.50,421.85 586.50,421.71 587.50,421.57 588.50,421.42 589.50,421.26 590.50,421.11 591.50,420.95 592.50,420.79 593.50,420.64 594.50,420.48 595.50,420.32 596.50,420.17 597.50,420.01 598.50,419.86 599.50,419.70 600.50,419.54 601.50,419.37 602.50,419.20 603.50,419.02 604.50,418.83 605.50,418.64 606.50,418.44 607.50,418.24 608.50,418.02 609.50,417.80 610.50,417.58 611.50,417.35 612.50,417.10 613.50,416.85 614.50,416.60 615.50,416.33 616.50,416.05 617.50,415.76 618.50,415.45 619.50,415.14 620.50,414.81 621.50,414.46 622.50,414.09 623.50,413.71 624.50,413.30 625.50,412.88 626.50,412.44 627.50,411.97 628.50,411.49 629.50,410.98 630.50,410.46 631.50,409.91 632.50,409.34 633.50,408.74 634.50,408.11 635.50,407.43 636.50,406.70 637.50,405.93 638.50,405.11 639.50,404.26 640.50,403.38 641.50,402.48 642.50,401.57 643.50,400.65 644.50,399.73 645.50,398.80 646.50,397.86 647.50,396.92 648.50,395.96 649.50,394.98 650.50,393.98 651.50,392.97 652.50,391.94 653.50,390.88 654.50,389.80 655.50,388.70 656.50,387.56 657.50,386.40 658.50,385.20 659.50,383.99 660.50,382.75 661.50,381.50 662.50,380.24 663.50,378.97 664.50,377.71 665.50,376.44 666.50,375.19 667.50,373.94 668.50,372.71 669.50,371.48 670.50,370.25 671.50,369.02 672.50,367.80 673.50,366.59 674.50,365.39 675.50,364.20 676.50,363.04 677.50,361.90 678.50,360.79 679.50,359.68 680.50,358.60 681.50,357.53 682.50,356.48 683.50,355.46 684.50,354.47 685.50,353.52 686.50,352.61 687.50,351.74 688.50,350.91 689.50,350.13 690.50,349.37 691.50,348.65 692.50,347.95 693.50,347.27 694.50,346.60 695.50,345.96 696.50,345.33 697.50,344.71 698.50,344.11 699.50,343.53 700.50,342.95 701.50,342.36 702.50,341.76 703.50,341.13 704.50,340.47 705.50,339.79 706.50,339.09 707.50,338.37 708.50,337.64 709.50,336.90 710.50,336.16 711.50,335.42 712.50,334.68 713.50,333.95 714.50,333.21 715.50,332.46 716.50,331.70 717.50,330.94 718.50,330.18 719.50,329.43 720.50,328.72 721.50,328.06 722.50,327.46 723.50,326.92 724.50,326.44 725.50,326.01 726.50,325.63 727.50,325.30 728.50,325.04 729.50,324.87 730.50,324.80 731.50,324.84 732.50,325.00 733.50,325.25 734.50,325.59 735.50,326.00 736.50,326.47 737.50,326.99 738.50,327.56 739.50,328.19 740.50,328.91 741.50,329.73 742.50,330.65 743.50,331.65 744.50,332.71 745.50,333.81 746.50,334.95 747.50,336.10 748.50,337.27 749.50,338.48 750.50,339.72 751.50,340.99 752.50,342.30 753.50,343.63 754.50,344.97 755.50,346.31 756.50,347.65 757.50,348.99 758.50,350.30 759.50,351.61 760.50,352.91 761.50,354.20 762.50,355.49 763.50,356.78 764.50,358.08 765.50,359.40 766.50,360.73 767.50,362.07 768.50,363.44 769.50,364.83 770.50,366.24 771.50,367.66 772.50,369.10 773.50,370.57 774.50,372.05 775.50,373.55 776.50,375.08 777.50,376.64 778.50,378.22 779.50,379.85 780.50,381.51 781.50,383.22 782.50,384.96 783.50,386.73 784.50,388.51 785.50,390.29 786.50,392.07 787.50,393.83 788.50,395.57 789.50,397.24 790.50,398.76 791.50,400.00 792.00,400.88" fill="none" stroke="#008000" stroke-width="1.30" stroke-linejoin="round"/>
<path d="M563.70,425.32 L564.70,425.32 565.70,425.31 566.70,425.31 567.70,425.31 568.70,425.30 569.70,425.30 570.70,425.30 571.70,425.29 572.70,425.29 573.70,425.29 574.70,425.29 575.70,425.28 576.70,425.28 577.70,425.28 578.70,425.28 579.70,425.27 580.70,425.27 581.70,425.27 582.70,425.27 583.70,425.26 584.70,425.26 585.70,425.26 586.70,425.26 587.70,425.26 588.70,425.26 589.70,425.25 590.70,425.25 591.70,425.25 592.70,425.25 593.70,425.25 594.70,425.24 595.70,425.24 596.70,425.24 597.70,425.24 598.70,425.24 599.70,425.23 600.70,425.23 601.70,425.23 602.70,425.23 603.70,425.22 604.70,425.22 605.70,425.22 606.70,425.21 607.70,425.21 608.70,425.21 609.70,425.20 610.70,425.20 611.70,425.20 612.70,425.19 613.70,425.19 614.70,425.18 615.70,425.18 616.70,425.17 617.70,425.17 618.70,425.16 619.70,425.16 620.70,425.15 621.70,425.14 622.70,425.14 623.70,425.13 624.70,425.12 625.70,425.11 626.70,425.09 627.70,425.06 628.70,425.02 629.70,424.95 630.70,424.87 631.70,424.76 632.70,424.63 633.70,424.49 634.70,424.33 635.70,424.16 636.70,423.98 637.70,423.80 638.70,423.61 639.70,423.42 640.70,423.23 641.70,423.04 642.70,422.84 643.70,422.63 644.70,422.41 645.70,422.17 646.70,421.93 647.70,421.67 648.70,421.41 649.70,421.13 650.70,420.85 651.70,420.55 652.70,420.25 653.70,419.94 654.70,419.61 655.70,419.28 656.70,418.93 657.70,418.56 658.70,418.18 659.70,417.78 660.70,417.36 661.70,416.92 662.70,416.44 663.70,415.94 664.70,415.40 665.70,414.83 666.70,414.23 667.70,413.61 668.70,412.96 669.70,412.28 670.70,411.60 671.70,410.90 672.70,410.19 673.70,409.47 674.70,408.75 675.70,408.03 676.70,407.31 677.70,406.60 678.70,405.89 679.70,405.18 680.70,404.46 681.70,403.74 682.70,403.01 683.70,402.27 684.70,401.50 685.70,400.72 686.70,399.91 687.70,399.06 688.70,398.19 689.70,397.27 690.70,396.30 691.70,395.28 692.70,394.19 693.70,393.05 694.70,391.84 695.70,390.58 696.70,389.26 697.70,387.88 698.70,386.44 699.70,384.93 700.70,383.36 701.70,381.71 702.70,379.99 703.70,378.20 704.70,376.34 705.70,374.40 706.70,372.37 707.70,370.26 708.70,368.05 709.70,365.75 710.70,363.38 711.70,360.93 712.70,358.42 713.70,355.85 714.70,353.24 715.70,350.60 716.70,347.96 717.70,345.31 718.70,342.66 719.70,340.00 720.70,337.37 721.70,334.77 722.70,332.24 723.70,329.78 724.70,327.42 725.70,325.16 726.70,322.98 727.70,320.86 728.70,318.75 729.70,316.63 730.70,314.49 731.70,312.34 732.70,310.20 733.70,308.12 734.70,306.12 735.70,304.24 736.70,302.46 737.70,300.77 738.70,299.14 739.70,297.54 740.70,295.97 741.70,294.42 742.70,292.89 743.70,291.42 744.70,290.01 745.70,288.70 746.70,287.48 747.70,286.37 748.70,285.36 749.70,284.48 750.70,283.73 751.70,283.11 752.70,282.61 753.70,282.21 754.70,281.92 755.70,281.75 756.70,281.71 757.70,281.83 758.70,282.10 759.70,282.51 760.70,283.03 761.70,283.69 762.70,284.48 763.70,285.43 764.70,286.54 765.70,287.78 766.70,289.15 767.70,290.62 768.70,292.19 769.70,293.89 770.70,295.70 771.70,297.63 772.70,299.68 773.70,301.88 774.70,304.26 775.70,306.86 776.70,309.76 777.70,312.99 778.70,316.62 779.70,320.68 780.70,325.22 781.70,330.26 782.70,335.83 783.70,341.86 784.70,348.25 785.70,354.82 786.70,361.46 787.70,368.03 788.70,374.35 789.70,380.09 790.70,384.79 791.20,388.13" fill="none" stroke="#a9a9a9" stroke-width="1.00" stroke-linejoin="round"/>
<path d="M564.50,424.99 L565.50,424.93 566.50,424.84 567.50,424.73 568.50,424.62 569.50,424.51 570.50,424.40 571.50,424.29 572.50,424.18 573.50,424.06 574.50,423.95 575.50,423.84 576.50,423.73 577.50,423.62 578.50,423.51 579.50,423.39 580.50,423.28 581.50,423.17 582.50,423.05 583.50,422.94 584.50,422.82 585.50,422.71 586.50,422.59 587.50,422.47 588.50,422.36 589.50,422.26 590.50,422.16 591.50,422.06 592.50,421.97 593.50,421.88 594.50,421.79 595.50,421.71 596.50,421.62 597.50,421.54 598.50,421.46 599.50,421.39 600.50,421.31 601.50,421.24 602.50,421.17 603.50,421.10 604.50,421.04 605.50,420.97 606.50,420.91 607.50,420.86 608.50,420.80 609.50,420.75 610.50,420.70 611.50,420.66 612.50,420.61 613.50,420.56 614.50,420.51 615.50,420.46 616.50,420.41 617.50,420.35 618.50,420.29 619.50,420.23 620.50,420.16 621.50,420.09 622.50,420.01 623.50,419.93 624.50,419.85 625.50,419.77 626.50,419.68 627.50,419.58 628.50,419.48 629.50,419.38 630.50,419.28 631.50,419.17 632.50,419.05 633.50,418.93 634.50,418.81 635.50,418.67 636.50,418.54 637.50,418.39 638.50,418.24 639.50,418.08 640.50,417.90 641.50,417.72 642.50,417.52 643.50,417.32 644.50,417.09 645.50,416.85 646.50,416.59 647.50,416.31 648.50,416.00 649.50,415.65 650.50,415.27 651.50,414.85 652.50,414.40 653.50,413.91 654.50,413.38 655.50,412.80 656.50,412.16 657.50,411.46 658.50,410.68 659.50,409.82 660.50,408.90 661.50,407.90 662.50,406.84 663.50,405.70 664.50,404.49 665.50,403.21 666.50,401.88 667.50,400.50 668.50,399.09 669.50,397.65 670.50,396.17 671.50,394.66 672.50,393.11 673.50,391.54 674.50,389.96 675.50,388.36 676.50,386.76 677.50,385.17 678.50,383.58 679.50,381.99 680.50,380.41 681.50,378.82 682.50,377.23 683.50,375.63 684.50,374.02 685.50,372.40 686.50,370.76 687.50,369.10 688.50,367.43 689.50,365.73 690.50,364.02 691.50,362.29 692.50,360.54 693.50,358.77 694.50,356.98 695.50,355.16 696.50,353.31 697.50,351.44 698.50,349.57 699.50,347.69 700.50,345.84 701.50,344.03 702.50,342.25 703.50,340.51 704.50,338.80 705.50,337.11 706.50,335.45 707.50,333.80 708.50,332.17 709.50,330.56 710.50,329.00 711.50,327.52 712.50,326.12 713.50,324.83 714.50,323.64 715.50,322.55 716.50,321.52 717.50,320.57 718.50,319.69 719.50,318.88 720.50,318.15 721.50,317.51 722.50,316.96 723.50,316.47 724.50,316.03 725.50,315.62 726.50,315.25 727.50,314.92 728.50,314.63 729.50,314.38 730.50,314.19 731.50,314.06 732.50,313.98 733.50,313.95 734.50,313.95 735.50,313.97 736.50,314.00 737.50,314.05 738.50,314.11 739.50,314.18 740.50,314.25 741.50,314.34 742.50,314.45 743.50,314.59 744.50,314.78 745.50,315.02 746.50,315.33 747.50,315.70 748.50,316.13 749.50,316.61 750.50,317.13 751.50,317.68 752.50,318.27 753.50,318.89 754.50,319.56 755.50,320.28 756.50,321.07 757.50,321.93 758.50,322.87 759.50,323.87 760.50,324.92 761.50,326.03 762.50,327.18 763.50,328.37 764.50,329.59 765.50,330.86 766.50,332.18 767.50,333.55 768.50,334.99 769.50,336.50 770.50,338.08 771.50,339.74 772.50,341.47 773.50,343.29 774.50,345.21 775.50,347.25 776.50,349.45 777.50,351.80 778.50,354.31 779.50,356.97 780.50,359.73 781.50,362.58 782.50,365.46 783.50,368.34 784.50,371.20 785.50,374.03 786.50,376.80 787.50,379.54 788.50,382.23 789.50,384.81 790.50,387.14 791.50,389.06 792.00,390.42" fill="none" stroke="#ff0000" stroke-width="1.30" stroke-linejoin="round"/>
<path d="M564.50,425.32 L565.50,425.32 566.50,425.31 567.50,425.31 568.50,425.31 569.50,425.30 570.50,425.30 571.50,425.30 572.50,425.29 573.50,425.29 574.50,425.29 575.50,425.28 576.50,425.28 577.50,425.28 578.50,425.28 579.50,425.27 580.50,425.27 581.50,425.27 582.50,425.27 583.50,425.27 584.50,425.26 585.50,425.26 586.50,425.26 587.50,425.26 588.50,425.26 589.50,425.25 590.50,425.25 591.50,425.25 592.50,425.25 593.50,425.25 594.50,425.25 595.50,425.24 596.50,425.24 597.50,425.24 598.50,425.24 599.50,425.23 600.50,425.23 601.50,425.23 602.50,425.23 603.50,425.22 604.50,425.22 605.50,425.22 606.50,425.22 607.50,425.21 608.50,425.21 609.50,425.21 610.50,425.20 611.50,425.20 612.50,425.19 613.50,425.19 614.50,425.19 615.50,425.18 616.50,425.18 617.50,425.17 618.50,425.17 619.50,425.16 620.50,425.15 621.50,425.15 622.50,425.14 623.50,425.13 624.50,425.13 625.50,425.12 626.50,425.11 627.50,425.09 628.50,425.06 629.50,425.01 630.50,424.95 631.50,424.86 632.50,424.75 633.50,424.62 634.50,424.47 635.50,424.31 636.50,424.14 637.50,423.96 638.50,423.77 639.50,423.58 640.50,423.38 641.50,423.19 642.50,422.99 643.50,422.79 644.50,422.57 645.50,422.35 646.50,422.11 647.50,421.86 648.50,421.60 649.50,421.33 650.50,421.05 651.50,420.76 652.50,420.46 653.50,420.15 654.50,419.83 655.50,419.50 656.50,419.15 657.50,418.80 658.50,418.42 659.50,418.03 660.50,417.63 661.50,417.20 662.50,416.74 663.50,416.26 664.50,415.75 665.50,415.20 666.50,414.62 667.50,414.01 668.50,413.37 669.50,412.70 670.50,412.02 671.50,411.32 672.50,410.60 673.50,409.88 674.50,409.15 675.50,408.41 676.50,407.68 677.50,406.95 678.50,406.22 679.50,405.49 680.50,404.77 681.50,404.04 682.50,403.30 683.50,402.56 684.50,401.80 685.50,401.02 686.50,400.22 687.50,399.39 688.50,398.53 689.50,397.63 690.50,396.69 691.50,395.71 692.50,394.66 693.50,393.56 694.50,392.39 695.50,391.16 696.50,389.87 697.50,388.52 698.50,387.12 699.50,385.65 700.50,384.11 701.50,382.50 702.50,380.82 703.50,379.06 704.50,377.24 705.50,375.34 706.50,373.36 707.50,371.29 708.50,369.13 709.50,366.88 710.50,364.54 711.50,362.12 712.50,359.62 713.50,357.05 714.50,354.43 715.50,351.77 716.50,349.08 717.50,346.38 718.50,343.68 719.50,340.97 720.50,338.26 721.50,335.57 722.50,332.92 723.50,330.34 724.50,327.83 725.50,325.43 726.50,323.12 727.50,320.89 728.50,318.72 729.50,316.57 730.50,314.41 731.50,312.23 732.50,310.03 733.50,307.85 734.50,305.73 735.50,303.69 736.50,301.77 737.50,299.95 738.50,298.22 739.50,296.56 740.50,294.94 741.50,293.33 742.50,291.75 743.50,290.19 744.50,288.68 745.50,287.25 746.50,285.91 747.50,284.67 748.50,283.53 749.50,282.50 750.50,281.60 751.50,280.84 752.50,280.21 753.50,279.70 754.50,279.29 755.50,278.99 756.50,278.82 757.50,278.78 758.50,278.91 759.50,279.18 760.50,279.59 761.50,280.13 762.50,280.80 763.50,281.61 764.50,282.58 765.50,283.71 766.50,284.98 767.50,286.37 768.50,287.87 769.50,289.48 770.50,291.20 771.50,293.05 772.50,295.02 773.50,297.12 774.50,299.36 775.50,301.79 776.50,304.45 777.50,307.40 778.50,310.70 779.50,314.40 780.50,318.55 781.50,323.17 782.50,328.32 783.50,334.00 784.50,340.16 785.50,346.67 786.50,353.38 787.50,360.16 788.50,366.86 789.50,373.31 790.50,379.17 791.50,383.97 792.00,387.37" fill="none" stroke="#0000ff" stroke-width="1.30" stroke-linejoin="round"/>
</g>
<line x1="570.50" y1="269.00" x2="570.50" y2="425.60" stroke="#707070" stroke-width="1.10"/>
<text x="570.50" y="434.8" font-size="8.3" fill="#3a3a3a" text-anchor="middle" font-family="Liberation Sans, sans-serif" textLength="10.7" lengthAdjust="spacingAndGlyphs">0.5</text>
<text x="613.60" y="434.8" font-size="8.3" fill="#3a3a3a" text-anchor="middle" font-family="Liberation Sans, sans-serif" textLength="10.7" lengthAdjust="spacingAndGlyphs">0.6</text>
<text x="656.70" y="434.8" font-size="8.3" fill="#3a3a3a" text-anchor="middle" font-family="Liberation Sans, sans-serif" textLength="10.7" lengthAdjust="spacingAndGlyphs">0.7</text>
<text x="699.80" y="434.8" font-size="8.3" fill="#3a3a3a" text-anchor="middle" font-family="Liberation Sans, sans-serif" textLength="10.7" lengthAdjust="spacingAndGlyphs">0.8</text>
<text x="742.90" y="434.8" font-size="8.3" fill="#3a3a3a" text-anchor="middle" font-family="Liberation Sans, sans-serif" textLength="10.7" lengthAdjust="spacingAndGlyphs">0.9</text>
<text x="786.00" y="434.8" font-size="8.3" fill="#3a3a3a" text-anchor="middle" font-family="Liberation Sans, sans-serif" textLength="10.7" lengthAdjust="spacingAndGlyphs">1.0</text>
<text transform="translate(567.40,346.8) rotate(-90)" font-size="8.5" fill="#2a2a2a" text-anchor="middle" font-family="Liberation Sans, sans-serif" textLength="30.5" lengthAdjust="spacingAndGlyphs">density</text>
<line x1="575.83" y1="279.00" x2="590.18" y2="279.00" stroke="#45a845" stroke-width="1.7"/>
<text x="594.97" y="281.50" font-size="8.4" fill="#2a2a2a" font-family="Liberation Sans, sans-serif" textLength="98.9" lengthAdjust="spacingAndGlyphs">Direct only (mean AUC 0.837)</text>
<line x1="575.83" y1="290.30" x2="590.18" y2="290.30" stroke="#a0a0a0" stroke-width="1.7"/>
<text x="594.97" y="292.80" font-size="8.4" fill="#2a2a2a" font-family="Liberation Sans, sans-serif" textLength="72.0" lengthAdjust="spacingAndGlyphs">DS (mean AUC 0.896)</text>
<line x1="575.83" y1="301.60" x2="590.18" y2="301.60" stroke="#f23a3a" stroke-width="1.7"/>
<text x="594.97" y="304.10" font-size="8.4" fill="#2a2a2a" font-family="Liberation Sans, sans-serif" textLength="88.4" lengthAdjust="spacingAndGlyphs">Nguyen (mean AUC 0.870)</text>
<line x1="575.83" y1="312.70" x2="590.18" y2="312.70" stroke="#3a3af2" stroke-width="1.7"/>
<text x="594.97" y="315.20" font-size="8.4" fill="#2a2a2a" font-family="Liberation Sans, sans-serif" textLength="76.4" lengthAdjust="spacingAndGlyphs">SDS (mean AUC 0.900)</text>
</svg>
</body></html>
